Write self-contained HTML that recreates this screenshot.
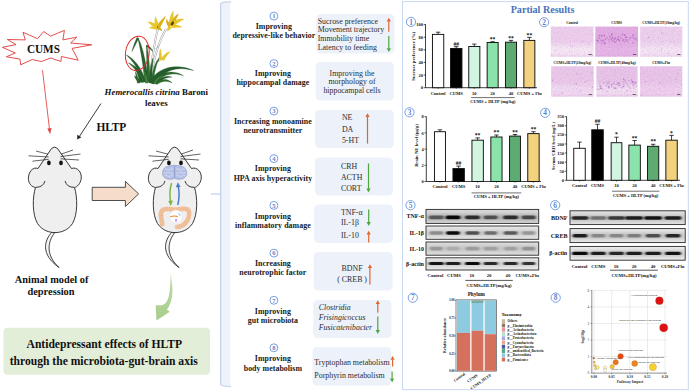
<!DOCTYPE html>
<html><head><meta charset="utf-8">
<style>
html,body{margin:0;padding:0;background:#fff;}
#c{position:relative;width:690px;height:391px;overflow:hidden;background:#fff;}
svg{position:absolute;left:0;top:0;}
text{font-family:"Liberation Serif",serif;}
.b{font-weight:bold;}
</style></head>
<body><div id="c">
<svg width="690" height="391" viewBox="0 0 690 391">
<defs>
 <linearGradient id="gArr" x1="0" y1="0" x2="0" y2="1">
  <stop offset="0" stop-color="#b5d69a" stop-opacity="0.15"/>
  <stop offset="0.3" stop-color="#b0d294" stop-opacity="0.9"/>
  <stop offset="1" stop-color="#a8cd8a"/>
 </linearGradient>
 <g id="mouse">
  <path d="M52,232 C44.5,240 40,254 59,267.5 C45.5,255 47.5,242 54.8,232.5 Z" fill="#f4f4f4" stroke="#222" stroke-width="0.85"/>
  <path d="M51.5,148.5 Q54.5,145.5 57.5,148.5 L71.5,168.5 C77,166.5 82,172 81.2,178.5 C80.5,184 77,187 74.5,187.5 C77.5,197 78,214 72.5,223.5 C68,230.5 60.5,232.6 55,232.6 C49.5,232.6 42,230.5 37.5,223.5 C32,214 32.5,197 35.5,187.5 C32,187 28.5,184 28.4,178.5 C28.3,172 33,166.5 38,168.5 Z" fill="#efefef" stroke="#222" stroke-width="0.9"/>
  <path d="M35.8,187.3 Q43,187.5 45,181" fill="none" stroke="#222" stroke-width="0.9"/>
  <path d="M74.2,187.3 Q67,187.5 65,181" fill="none" stroke="#222" stroke-width="0.9"/>
  <ellipse cx="48.9" cy="162.9" rx="1.85" ry="2.3" fill="#111"/>
  <ellipse cx="61.0" cy="162.9" rx="1.85" ry="2.3" fill="#111"/>
  <g stroke="#222" stroke-width="0.7" fill="none">
   <path d="M36,151 L48,154.2"/><path d="M28.5,155.8 L48.6,157"/><path d="M32.5,161.2 L48.6,159.3"/>
   <path d="M61,154.2 L73,150"/><path d="M60.5,156.6 L80.5,154"/><path d="M60.5,158.8 L79,160"/>
  </g>
 </g>
</defs>

<!-- ============ LEFT PANEL ============ -->
<!-- CUMS starburst -->
<polygon points="2.3,47.3 16,44.6 7.4,39.5 25.3,39.9 23,32.3 37.6,38.7 43.7,31.5 50.6,36.1 64.4,30.4 62.9,39.9 76.7,37.2 70.6,43 91.7,44.8 72.1,48.4 78.2,60.2 61.3,56.5 61,61.5 50.6,58 41.5,61.5 32.2,59.5 20.7,64.8 20,59.1 6.3,56.8 15.3,53" fill="#fff" stroke="#e03a3a" stroke-width="0.9" stroke-linejoin="miter"/>
<text x="26.9" y="52.6" font-size="12" class="b" fill="#111" textLength="33" lengthAdjust="spacingAndGlyphs">CUMS</text>
<!-- red arrow -->
<line x1="42.5" y1="70.2" x2="49.6" y2="130" stroke="#e24a4a" stroke-width="0.9"/>
<path d="M47.3,128.5 L50.1,134.2 L51.6,128 Z" fill="#e24a4a"/>
<!-- black arrow -->
<line x1="101" y1="103.5" x2="79.5" y2="136.3" stroke="#222" stroke-width="0.9"/>
<path d="M77.3,134.8 L77.2,139.6 L81.4,137.3 Z" fill="#222"/>

<!-- plant -->
<!--PLANT--><g id="plant">
<path d="M150.8,70 C152.5,56 154.5,42 157.8,29" fill="none" stroke="#9a9a9a" stroke-width="1.9"/>
<path d="M150.8,70 C152.5,56 154.5,42 157.8,29" fill="none" stroke="#f4f4f4" stroke-width="1.1"/>
<path d="M152.5,68 C155,55 159,41 166,29" fill="none" stroke="#9a9a9a" stroke-width="1.9"/>
<path d="M152.5,68 C155,55 159,41 166,29" fill="none" stroke="#f4f4f4" stroke-width="1.1"/>
<path d="M158.5,62 C159.5,57 160,54 160.3,50" fill="none" stroke="#9a9a9a" stroke-width="1.0"/>
<path d="M155.5,49 L159,45.5" fill="none" stroke="#9a9a9a" stroke-width="0.8"/>
<path d="M148.25,81.84 L148.04,79.68 L147.80,77.50 L147.54,75.30 L147.24,73.10 L146.93,70.89 L146.59,68.69 L146.22,66.50 L145.84,64.33 L145.43,62.18 L145.01,60.06 L144.57,57.99 L144.12,55.95 L143.66,53.98 L143.18,52.06 L142.69,50.20 L142.18,48.42 L141.67,46.73 L141.16,45.12 L140.63,43.60 L140.09,42.19 L139.55,40.89 L139.00,39.71 L138.43,38.67 L137.80,37.80 L137.80,37.80 L137.97,38.86 L138.23,40.00 L138.51,41.25 L138.81,42.60 L139.12,44.05 L139.44,45.59 L139.77,47.22 L140.10,48.94 L140.44,50.73 L140.78,52.59 L141.12,54.52 L141.45,56.50 L141.78,58.53 L142.11,60.60 L142.43,62.71 L142.74,64.84 L143.04,67.00 L143.33,69.18 L143.61,71.36 L143.87,73.55 L144.12,75.73 L144.35,77.89 L144.56,80.04 L144.75,82.16 Z" fill="#276030" stroke="#1e4d22" stroke-width="0.3"/>
<path d="M136.93,37.43 L136.71,37.95 L136.49,38.47 L136.27,38.99 L136.05,39.52 L135.83,40.05 L135.61,40.58 L135.39,41.11 L135.17,41.65 L134.95,42.20 L134.73,42.75 L134.52,43.30 L134.30,43.87 L134.09,44.44 L133.88,45.02 L133.67,45.61 L133.46,46.21 L133.26,46.83 L133.05,47.45 L132.85,48.09 L132.66,48.73 L132.47,49.40 L132.29,50.08 L132.12,50.77 L132.00,51.50 L132.00,51.50 L132.38,50.87 L132.71,50.23 L133.03,49.61 L133.34,49.00 L133.64,48.40 L133.94,47.81 L134.23,47.23 L134.52,46.66 L134.81,46.10 L135.09,45.54 L135.37,45.00 L135.65,44.46 L135.92,43.92 L136.19,43.39 L136.45,42.87 L136.71,42.34 L136.97,41.82 L137.22,41.30 L137.47,40.78 L137.72,40.26 L137.96,39.75 L138.20,39.22 L138.44,38.70 L138.67,38.17 Z" fill="#276030" stroke="#1e4d22" stroke-width="0.3"/>
<path d="M149.98,82.00 L149.98,80.23 L149.95,78.44 L149.91,76.65 L149.86,74.85 L149.80,73.05 L149.72,71.26 L149.63,69.47 L149.53,67.70 L149.42,65.95 L149.30,64.23 L149.17,62.53 L149.03,60.87 L148.87,59.25 L148.71,57.67 L148.54,56.14 L148.37,54.67 L148.18,53.26 L147.98,51.91 L147.78,50.63 L147.56,49.43 L147.34,48.31 L147.10,47.27 L146.83,46.33 L146.50,45.50 L146.50,45.50 L146.42,46.39 L146.40,47.36 L146.41,48.42 L146.43,49.55 L146.45,50.76 L146.48,52.05 L146.52,53.40 L146.56,54.81 L146.60,56.29 L146.64,57.81 L146.68,59.39 L146.72,61.01 L146.77,62.66 L146.80,64.35 L146.84,66.07 L146.88,67.81 L146.91,69.58 L146.94,71.35 L146.96,73.13 L146.98,74.92 L147.00,76.71 L147.01,78.49 L147.01,80.25 L147.02,82.00 Z" fill="#2f6c2e" stroke="#1e4d22" stroke-width="0.3"/>
<path d="M146.04,46.25 L146.34,46.43 L146.63,46.61 L146.92,46.79 L147.21,46.98 L147.50,47.17 L147.78,47.37 L148.07,47.57 L148.35,47.77 L148.63,47.97 L148.91,48.18 L149.19,48.40 L149.47,48.62 L149.75,48.84 L150.03,49.07 L150.31,49.30 L150.59,49.53 L150.87,49.77 L151.16,50.01 L151.45,50.26 L151.74,50.51 L152.04,50.76 L152.34,51.02 L152.65,51.27 L153.00,51.50 L153.00,51.50 L152.85,51.11 L152.66,50.75 L152.46,50.41 L152.25,50.07 L152.04,49.74 L151.82,49.42 L151.60,49.11 L151.37,48.80 L151.14,48.50 L150.90,48.20 L150.66,47.92 L150.41,47.63 L150.15,47.36 L149.89,47.09 L149.63,46.82 L149.36,46.57 L149.08,46.31 L148.80,46.07 L148.51,45.83 L148.21,45.60 L147.91,45.38 L147.60,45.16 L147.28,44.95 L146.96,44.75 Z" fill="#276030" stroke="#1e4d22" stroke-width="0.3"/>
<path d="M145.57,81.58 L145.15,80.05 L144.69,78.54 L144.19,77.06 L143.64,75.61 L143.06,74.18 L142.43,72.79 L141.77,71.43 L141.07,70.10 L140.34,68.81 L139.57,67.55 L138.77,66.34 L137.95,65.16 L137.09,64.03 L136.21,62.94 L135.31,61.90 L134.38,60.90 L133.44,59.95 L132.47,59.06 L131.48,58.22 L130.48,57.43 L129.47,56.71 L128.43,56.05 L127.39,55.46 L126.30,55.00 L126.30,55.00 L127.13,55.84 L127.98,56.66 L128.83,57.50 L129.67,58.37 L130.50,59.28 L131.31,60.22 L132.12,61.20 L132.90,62.21 L133.68,63.26 L134.43,64.33 L135.16,65.45 L135.88,66.59 L136.57,67.76 L137.24,68.96 L137.89,70.20 L138.51,71.46 L139.10,72.74 L139.67,74.06 L140.21,75.39 L140.72,76.76 L141.20,78.14 L141.64,79.54 L142.06,80.97 L142.43,82.42 Z" fill="#276030" stroke="#1e4d22" stroke-width="0.3"/>
<path d="M144.42,81.55 L144.01,80.28 L143.56,79.05 L143.08,77.86 L142.57,76.72 L142.03,75.62 L141.46,74.56 L140.86,73.55 L140.24,72.57 L139.60,71.65 L138.94,70.76 L138.25,69.92 L137.55,69.12 L136.84,68.36 L136.11,67.64 L135.37,66.97 L134.62,66.34 L133.86,65.75 L133.09,65.20 L132.32,64.69 L131.55,64.23 L130.77,63.81 L129.99,63.44 L129.21,63.12 L128.40,62.90 L128.40,62.90 L129.00,63.48 L129.62,64.03 L130.26,64.59 L130.89,65.16 L131.52,65.76 L132.15,66.37 L132.78,67.01 L133.40,67.68 L134.01,68.37 L134.62,69.09 L135.21,69.83 L135.80,70.61 L136.37,71.41 L136.93,72.25 L137.48,73.11 L138.01,74.01 L138.52,74.94 L139.02,75.91 L139.50,76.91 L139.96,77.94 L140.40,79.01 L140.82,80.12 L141.21,81.26 L141.58,82.45 Z" fill="#2f6c2e" stroke="#1e4d22" stroke-width="0.3"/>
<path d="M142.17,81.67 L141.92,80.80 L141.67,79.96 L141.41,79.13 L141.16,78.33 L140.91,77.54 L140.65,76.78 L140.40,76.03 L140.14,75.31 L139.87,74.60 L139.60,73.92 L139.32,73.25 L139.04,72.60 L138.75,71.97 L138.46,71.36 L138.15,70.77 L137.83,70.20 L137.51,69.65 L137.17,69.13 L136.82,68.62 L136.46,68.14 L136.08,67.68 L135.69,67.24 L135.27,66.84 L134.80,66.50 L134.80,66.50 L134.99,67.05 L135.22,67.57 L135.44,68.09 L135.66,68.62 L135.87,69.16 L136.08,69.70 L136.29,70.26 L136.49,70.84 L136.69,71.42 L136.89,72.02 L137.09,72.64 L137.28,73.28 L137.48,73.93 L137.67,74.60 L137.87,75.28 L138.07,75.99 L138.27,76.71 L138.48,77.46 L138.69,78.22 L138.90,79.00 L139.13,79.80 L139.35,80.63 L139.59,81.47 L139.83,82.33 Z" fill="#276030" stroke="#1e4d22" stroke-width="0.3"/>
<path d="M141.35,80.95 L141.04,80.71 L140.74,80.47 L140.44,80.24 L140.15,80.01 L139.85,79.78 L139.56,79.56 L139.28,79.34 L138.99,79.12 L138.71,78.90 L138.43,78.69 L138.15,78.47 L137.87,78.26 L137.59,78.06 L137.32,77.85 L137.05,77.65 L136.78,77.45 L136.51,77.25 L136.24,77.05 L135.97,76.86 L135.69,76.67 L135.42,76.48 L135.14,76.30 L134.84,76.13 L134.50,76.00 L134.50,76.00 L134.54,76.37 L134.64,76.70 L134.75,77.02 L134.89,77.33 L135.04,77.64 L135.20,77.95 L135.37,78.25 L135.56,78.55 L135.75,78.85 L135.95,79.15 L136.16,79.44 L136.38,79.74 L136.61,80.03 L136.85,80.31 L137.09,80.60 L137.34,80.88 L137.60,81.16 L137.87,81.44 L138.15,81.72 L138.44,81.99 L138.73,82.26 L139.03,82.53 L139.34,82.79 L139.65,83.05 Z" fill="#276030" stroke="#1e4d22" stroke-width="0.3"/>
<path d="M139.55,82.74 L139.42,82.24 L139.29,81.75 L139.15,81.27 L139.01,80.80 L138.87,80.34 L138.73,79.88 L138.58,79.43 L138.43,78.98 L138.28,78.54 L138.12,78.10 L137.97,77.66 L137.81,77.22 L137.65,76.77 L137.48,76.33 L137.31,75.88 L137.14,75.43 L136.96,74.97 L136.78,74.50 L136.60,74.02 L136.40,73.54 L136.21,73.04 L136.00,72.54 L135.77,72.02 L135.50,71.50 L135.50,71.50 L135.48,72.09 L135.50,72.65 L135.54,73.20 L135.60,73.73 L135.65,74.26 L135.72,74.77 L135.79,75.27 L135.86,75.76 L135.94,76.24 L136.02,76.72 L136.10,77.19 L136.19,77.66 L136.28,78.12 L136.38,78.58 L136.47,79.04 L136.57,79.50 L136.67,79.96 L136.77,80.42 L136.88,80.88 L136.99,81.34 L137.10,81.81 L137.21,82.29 L137.33,82.77 L137.45,83.26 Z" fill="#2f6c2e" stroke="#1e4d22" stroke-width="0.3"/>
<path d="M151.85,83.01 L151.85,82.01 L151.86,80.99 L151.87,79.96 L151.89,78.91 L151.91,77.85 L151.94,76.78 L151.98,75.69 L152.02,74.61 L152.06,73.51 L152.11,72.42 L152.17,71.33 L152.23,70.23 L152.29,69.14 L152.36,68.06 L152.43,66.99 L152.50,65.93 L152.58,64.87 L152.65,63.84 L152.73,62.82 L152.81,61.82 L152.88,60.83 L152.95,59.87 L153.00,58.93 L153.00,58.00 L153.00,58.00 L152.63,58.85 L152.32,59.75 L152.04,60.68 L151.78,61.64 L151.53,62.62 L151.30,63.63 L151.08,64.66 L150.87,65.70 L150.67,66.76 L150.48,67.84 L150.31,68.92 L150.15,70.02 L149.99,71.12 L149.85,72.22 L149.73,73.33 L149.61,74.43 L149.51,75.53 L149.42,76.63 L149.34,77.72 L149.27,78.80 L149.22,79.87 L149.18,80.93 L149.16,81.97 L149.15,82.99 Z" fill="#276030" stroke="#1e4d22" stroke-width="0.3"/>
<path d="M153.21,83.12 L153.34,81.77 L153.49,80.43 L153.65,79.10 L153.83,77.79 L154.02,76.50 L154.23,75.22 L154.45,73.96 L154.69,72.73 L154.94,71.52 L155.20,70.33 L155.48,69.17 L155.77,68.03 L156.08,66.93 L156.39,65.86 L156.72,64.82 L157.05,63.81 L157.40,62.83 L157.76,61.90 L158.12,61.00 L158.49,60.13 L158.87,59.31 L159.26,58.51 L159.64,57.75 L160.00,57.00 L160.00,57.00 L159.37,57.55 L158.79,58.19 L158.23,58.90 L157.68,59.66 L157.16,60.48 L156.65,61.35 L156.16,62.27 L155.69,63.23 L155.23,64.23 L154.80,65.27 L154.38,66.35 L153.98,67.47 L153.60,68.61 L153.23,69.79 L152.89,71.00 L152.57,72.23 L152.27,73.49 L151.99,74.78 L151.73,76.09 L151.50,77.41 L151.29,78.76 L151.10,80.12 L150.93,81.49 L150.79,82.88 Z" fill="#2f6c2e" stroke="#1e4d22" stroke-width="0.3"/>
<path d="M152.63,83.95 L153.37,82.68 L154.18,81.43 L155.08,80.20 L156.07,79.00 L157.13,77.84 L158.28,76.72 L159.51,75.64 L160.83,74.63 L162.22,73.67 L163.70,72.77 L165.27,71.95 L166.92,71.20 L168.66,70.54 L170.48,69.96 L172.39,69.49 L174.38,69.11 L176.47,68.85 L178.64,68.70 L180.90,68.67 L183.25,68.78 L185.69,69.01 L188.23,69.39 L190.85,69.90 L193.60,70.50 L193.60,70.50 L191.02,69.39 L188.45,68.53 L185.94,67.85 L183.47,67.34 L181.06,66.99 L178.71,66.78 L176.42,66.73 L174.20,66.81 L172.04,67.03 L169.94,67.37 L167.93,67.84 L165.98,68.42 L164.11,69.12 L162.32,69.91 L160.62,70.80 L159.00,71.78 L157.46,72.85 L156.02,73.99 L154.67,75.20 L153.41,76.47 L152.25,77.80 L151.19,79.17 L150.23,80.59 L149.37,82.05 Z" fill="#276030" stroke="#1e4d22" stroke-width="0.3"/>
<path d="M153.72,84.07 L154.62,83.02 L155.57,82.03 L156.55,81.08 L157.56,80.18 L158.61,79.34 L159.69,78.55 L160.80,77.82 L161.94,77.15 L163.11,76.54 L164.31,75.99 L165.53,75.50 L166.78,75.07 L168.05,74.72 L169.35,74.43 L170.67,74.22 L172.01,74.08 L173.37,74.01 L174.75,74.03 L176.15,74.12 L177.57,74.30 L179.01,74.56 L180.48,74.91 L181.96,75.33 L183.50,75.80 L183.50,75.80 L182.16,74.92 L180.76,74.20 L179.33,73.59 L177.89,73.09 L176.43,72.70 L174.97,72.40 L173.50,72.20 L172.03,72.10 L170.56,72.09 L169.10,72.18 L167.65,72.36 L166.22,72.63 L164.80,72.98 L163.40,73.42 L162.03,73.94 L160.69,74.54 L159.37,75.22 L158.09,75.97 L156.85,76.80 L155.64,77.69 L154.48,78.66 L153.36,79.69 L152.30,80.78 L151.28,81.93 Z" fill="#2f6c2e" stroke="#1e4d22" stroke-width="0.3"/>
<path d="M154.09,83.80 L154.71,82.96 L155.37,82.10 L156.09,81.23 L156.84,80.37 L157.64,79.50 L158.48,78.64 L159.36,77.79 L160.28,76.96 L161.23,76.15 L162.22,75.35 L163.24,74.59 L164.29,73.85 L165.37,73.15 L166.48,72.48 L167.61,71.86 L168.78,71.28 L169.97,70.75 L171.18,70.27 L172.42,69.85 L173.68,69.48 L174.97,69.18 L176.29,68.94 L177.63,68.76 L179.00,68.60 L179.00,68.60 L177.63,68.38 L176.26,68.31 L174.89,68.34 L173.52,68.46 L172.16,68.67 L170.82,68.95 L169.49,69.31 L168.19,69.74 L166.90,70.23 L165.64,70.79 L164.41,71.39 L163.21,72.05 L162.05,72.75 L160.91,73.49 L159.82,74.27 L158.76,75.08 L157.74,75.92 L156.77,76.78 L155.84,77.66 L154.95,78.56 L154.12,79.46 L153.33,80.37 L152.59,81.28 L151.91,82.20 Z" fill="#276030" stroke="#1e4d22" stroke-width="0.3"/>
<path d="M155.83,84.06 L156.44,83.58 L157.05,83.11 L157.67,82.64 L158.30,82.19 L158.93,81.75 L159.56,81.33 L160.21,80.92 L160.85,80.52 L161.50,80.15 L162.16,79.79 L162.82,79.45 L163.48,79.13 L164.15,78.84 L164.83,78.57 L165.50,78.32 L166.19,78.09 L166.88,77.89 L167.58,77.72 L168.29,77.57 L169.00,77.45 L169.73,77.36 L170.46,77.30 L171.22,77.26 L172.00,77.20 L172.00,77.20 L171.28,76.88 L170.54,76.67 L169.78,76.52 L169.01,76.42 L168.23,76.36 L167.45,76.36 L166.67,76.39 L165.88,76.47 L165.10,76.59 L164.32,76.75 L163.54,76.94 L162.77,77.17 L162.00,77.42 L161.24,77.71 L160.49,78.03 L159.74,78.38 L159.01,78.75 L158.28,79.15 L157.56,79.57 L156.86,80.00 L156.17,80.46 L155.49,80.94 L154.82,81.43 L154.17,81.94 Z" fill="#276030" stroke="#1e4d22" stroke-width="0.3"/>
<path d="M156.75,84.62 L157.34,84.22 L157.93,83.84 L158.53,83.49 L159.13,83.16 L159.73,82.85 L160.34,82.57 L160.95,82.32 L161.56,82.09 L162.18,81.90 L162.80,81.73 L163.42,81.59 L164.04,81.48 L164.67,81.41 L165.30,81.36 L165.93,81.36 L166.57,81.38 L167.22,81.44 L167.87,81.55 L168.53,81.69 L169.20,81.87 L169.87,82.10 L170.56,82.37 L171.26,82.68 L172.00,83.00 L172.00,83.00 L171.48,82.37 L170.91,81.84 L170.29,81.36 L169.66,80.94 L169.00,80.57 L168.32,80.25 L167.62,79.98 L166.91,79.77 L166.18,79.60 L165.45,79.48 L164.71,79.41 L163.96,79.39 L163.21,79.42 L162.46,79.49 L161.70,79.60 L160.96,79.76 L160.21,79.96 L159.47,80.19 L158.74,80.47 L158.02,80.78 L157.31,81.13 L156.61,81.52 L155.92,81.93 L155.25,82.38 Z" fill="#2f6c2e" stroke="#1e4d22" stroke-width="0.3"/>
<path d="M154.89,84.11 L155.25,83.58 L155.62,83.06 L156.00,82.55 L156.38,82.06 L156.76,81.58 L157.16,81.11 L157.55,80.66 L157.96,80.22 L158.37,79.80 L158.78,79.39 L159.20,78.99 L159.62,78.61 L160.05,78.24 L160.48,77.89 L160.92,77.55 L161.36,77.22 L161.80,76.91 L162.25,76.61 L162.70,76.32 L163.16,76.05 L163.62,75.79 L164.08,75.53 L164.54,75.28 L165.00,75.00 L165.00,75.00 L164.46,74.99 L163.92,75.05 L163.39,75.15 L162.85,75.28 L162.32,75.44 L161.78,75.62 L161.24,75.84 L160.71,76.07 L160.18,76.34 L159.66,76.62 L159.14,76.93 L158.63,77.27 L158.12,77.62 L157.61,78.00 L157.12,78.40 L156.63,78.82 L156.16,79.26 L155.69,79.72 L155.23,80.20 L154.78,80.70 L154.34,81.22 L153.92,81.76 L153.51,82.31 L153.11,82.89 Z" fill="#46843b" stroke="#1e4d22" stroke-width="0.3"/>
<path d="M148.32,82.73 L148.19,82.11 L148.06,81.50 L147.92,80.90 L147.78,80.30 L147.63,79.72 L147.49,79.15 L147.33,78.59 L147.18,78.03 L147.02,77.48 L146.86,76.94 L146.69,76.41 L146.52,75.88 L146.35,75.36 L146.17,74.85 L145.99,74.34 L145.80,73.84 L145.61,73.34 L145.41,72.85 L145.21,72.36 L145.00,71.88 L144.79,71.40 L144.56,70.92 L144.31,70.45 L144.00,70.00 L144.00,70.00 L143.94,70.55 L143.94,71.08 L143.96,71.60 L144.00,72.13 L144.04,72.65 L144.09,73.18 L144.14,73.71 L144.20,74.23 L144.26,74.76 L144.33,75.29 L144.40,75.83 L144.48,76.37 L144.56,76.91 L144.64,77.45 L144.73,78.01 L144.82,78.56 L144.92,79.13 L145.01,79.69 L145.12,80.27 L145.22,80.85 L145.33,81.44 L145.44,82.04 L145.56,82.65 L145.68,83.27 Z" fill="#46843b" stroke="#1e4d22" stroke-width="0.3"/>
<path d="M162.03,60.44 L162.00,59.88 L161.97,59.34 L161.94,58.79 L161.90,58.25 L161.87,57.72 L161.83,57.19 L161.79,56.67 L161.75,56.16 L161.71,55.65 L161.67,55.14 L161.63,54.64 L161.58,54.14 L161.54,53.65 L161.49,53.16 L161.45,52.68 L161.40,52.21 L161.35,51.73 L161.30,51.26 L161.24,50.80 L161.18,50.33 L161.12,49.88 L161.04,49.42 L160.95,48.96 L160.80,48.50 L160.80,48.50 L160.55,48.92 L160.37,49.35 L160.22,49.80 L160.08,50.25 L159.96,50.71 L159.85,51.17 L159.75,51.65 L159.65,52.13 L159.57,52.61 L159.49,53.11 L159.43,53.60 L159.37,54.11 L159.31,54.62 L159.27,55.13 L159.23,55.65 L159.20,56.18 L159.17,56.71 L159.15,57.24 L159.14,57.78 L159.13,58.33 L159.13,58.88 L159.14,59.44 L159.15,60.00 L159.17,60.56 Z" fill="#e6c62c"/>
<path d="M164.00,60.77 L164.24,60.31 L164.47,59.86 L164.70,59.42 L164.93,59.00 L165.16,58.58 L165.40,58.17 L165.64,57.77 L165.88,57.38 L166.12,57.00 L166.37,56.62 L166.63,56.24 L166.89,55.87 L167.15,55.50 L167.43,55.13 L167.71,54.76 L167.99,54.39 L168.29,54.02 L168.59,53.65 L168.90,53.28 L169.22,52.89 L169.54,52.51 L169.87,52.11 L170.20,51.69 L170.50,51.20 L170.50,51.20 L169.93,51.29 L169.42,51.45 L168.92,51.64 L168.44,51.85 L167.98,52.07 L167.52,52.31 L167.07,52.57 L166.64,52.84 L166.21,53.12 L165.79,53.42 L165.39,53.73 L164.99,54.06 L164.60,54.40 L164.22,54.76 L163.85,55.13 L163.49,55.52 L163.14,55.93 L162.81,56.35 L162.48,56.79 L162.16,57.24 L161.85,57.71 L161.55,58.20 L161.27,58.71 L161.00,59.23 Z" fill="#e6c62c"/>
<path d="M158.63,25.91 L158.19,25.60 L157.75,25.30 L157.30,25.01 L156.86,24.73 L156.42,24.46 L155.97,24.20 L155.53,23.95 L155.08,23.71 L154.63,23.48 L154.18,23.26 L153.73,23.06 L153.28,22.86 L152.83,22.67 L152.37,22.50 L151.91,22.34 L151.45,22.20 L150.98,22.07 L150.51,21.95 L150.04,21.86 L149.57,21.78 L149.09,21.72 L148.61,21.69 L148.12,21.69 L147.60,21.80 L147.60,21.80 L147.93,22.21 L148.28,22.54 L148.63,22.85 L148.97,23.15 L149.32,23.45 L149.66,23.74 L150.01,24.03 L150.35,24.31 L150.70,24.60 L151.05,24.89 L151.39,25.18 L151.75,25.47 L152.10,25.76 L152.46,26.05 L152.82,26.35 L153.19,26.64 L153.56,26.94 L153.94,27.24 L154.32,27.55 L154.72,27.85 L155.12,28.16 L155.52,28.47 L155.94,28.78 L156.37,29.09 Z" fill="#e8c828"/>
<path d="M159.38,26.97 L159.25,26.54 L159.11,26.10 L158.98,25.67 L158.83,25.23 L158.69,24.79 L158.54,24.36 L158.39,23.92 L158.24,23.48 L158.09,23.04 L157.93,22.60 L157.78,22.16 L157.62,21.72 L157.47,21.28 L157.32,20.85 L157.16,20.41 L157.01,19.98 L156.85,19.54 L156.70,19.11 L156.54,18.68 L156.39,18.25 L156.22,17.81 L156.06,17.38 L155.87,16.94 L155.60,16.50 L155.60,16.50 L155.32,16.94 L155.14,17.39 L155.00,17.85 L154.89,18.33 L154.80,18.81 L154.73,19.30 L154.68,19.79 L154.65,20.28 L154.63,20.78 L154.62,21.28 L154.63,21.78 L154.65,22.28 L154.68,22.78 L154.73,23.27 L154.78,23.77 L154.84,24.26 L154.91,24.75 L154.99,25.24 L155.08,25.72 L155.18,26.19 L155.28,26.66 L155.39,27.13 L155.50,27.58 L155.62,28.03 Z" fill="#e8c828"/>
<path d="M159.69,28.47 L159.94,28.04 L160.18,27.59 L160.42,27.15 L160.66,26.69 L160.90,26.24 L161.14,25.78 L161.38,25.31 L161.62,24.85 L161.86,24.39 L162.10,23.92 L162.34,23.46 L162.58,22.99 L162.81,22.53 L163.05,22.07 L163.28,21.62 L163.51,21.16 L163.74,20.71 L163.97,20.26 L164.20,19.82 L164.42,19.37 L164.64,18.93 L164.85,18.48 L165.05,18.02 L165.20,17.50 L165.20,17.50 L164.67,17.62 L164.21,17.83 L163.75,18.08 L163.31,18.36 L162.88,18.66 L162.46,18.99 L162.05,19.33 L161.64,19.69 L161.24,20.06 L160.85,20.45 L160.47,20.85 L160.10,21.26 L159.73,21.67 L159.38,22.10 L159.03,22.53 L158.69,22.96 L158.36,23.40 L158.04,23.85 L157.72,24.29 L157.42,24.74 L157.13,25.19 L156.84,25.64 L156.57,26.08 L156.31,26.53 Z" fill="#e8c828"/>
<path d="M159.14,28.22 L159.45,27.71 L159.76,27.21 L160.06,26.70 L160.36,26.20 L160.66,25.69 L160.95,25.18 L161.24,24.67 L161.54,24.15 L161.82,23.64 L162.11,23.12 L162.40,22.60 L162.69,22.08 L162.97,21.55 L163.26,21.03 L163.54,20.50 L163.83,19.97 L164.11,19.43 L164.40,18.89 L164.68,18.35 L164.96,17.80 L165.24,17.25 L165.52,16.69 L165.78,16.11 L166.00,15.50 L166.00,15.50 L165.47,15.89 L165.00,16.31 L164.55,16.75 L164.12,17.20 L163.69,17.65 L163.28,18.11 L162.87,18.57 L162.47,19.03 L162.08,19.50 L161.69,19.97 L161.31,20.45 L160.94,20.92 L160.57,21.40 L160.21,21.88 L159.85,22.36 L159.50,22.85 L159.16,23.33 L158.81,23.82 L158.48,24.31 L158.14,24.80 L157.82,25.30 L157.49,25.79 L157.17,26.29 L156.86,26.78 Z" fill="#d8b020"/>
<path d="M157.61,26.35 L157.24,26.33 L156.87,26.32 L156.49,26.31 L156.12,26.30 L155.74,26.30 L155.36,26.30 L154.99,26.31 L154.61,26.32 L154.23,26.34 L153.86,26.36 L153.49,26.40 L153.11,26.43 L152.74,26.48 L152.38,26.53 L152.01,26.60 L151.65,26.67 L151.29,26.75 L150.94,26.84 L150.60,26.94 L150.26,27.06 L149.92,27.20 L149.60,27.35 L149.29,27.53 L149.00,27.80 L149.00,27.80 L149.34,28.00 L149.67,28.12 L150.00,28.23 L150.32,28.33 L150.65,28.42 L150.98,28.51 L151.31,28.60 L151.65,28.68 L151.98,28.76 L152.32,28.84 L152.67,28.92 L153.01,28.99 L153.36,29.06 L153.71,29.13 L154.07,29.20 L154.43,29.27 L154.79,29.33 L155.15,29.39 L155.52,29.44 L155.89,29.49 L156.26,29.54 L156.63,29.58 L157.01,29.62 L157.39,29.65 Z" fill="#e8c828"/>
<path d="M157.51,29.42 L157.66,29.47 L157.82,29.51 L157.98,29.56 L158.14,29.61 L158.30,29.66 L158.46,29.71 L158.63,29.77 L158.80,29.82 L158.97,29.88 L159.14,29.93 L159.31,29.99 L159.49,30.06 L159.67,30.12 L159.85,30.19 L160.04,30.26 L160.22,30.33 L160.42,30.41 L160.61,30.49 L160.81,30.58 L161.02,30.66 L161.23,30.75 L161.46,30.84 L161.70,30.94 L162.00,31.00 L162.00,31.00 L162.05,30.69 L162.02,30.43 L161.97,30.17 L161.90,29.92 L161.82,29.68 L161.72,29.45 L161.60,29.22 L161.48,29.00 L161.34,28.79 L161.20,28.58 L161.05,28.38 L160.88,28.19 L160.72,28.01 L160.54,27.84 L160.36,27.67 L160.17,27.51 L159.97,27.36 L159.77,27.22 L159.57,27.09 L159.36,26.97 L159.15,26.86 L158.93,26.76 L158.71,26.66 L158.49,26.58 Z" fill="#d8b020"/>
<path d="M172.74,26.23 L172.80,25.62 L172.85,24.99 L172.90,24.35 L172.96,23.71 L173.01,23.06 L173.06,22.41 L173.10,21.75 L173.15,21.08 L173.20,20.42 L173.24,19.75 L173.29,19.09 L173.33,18.42 L173.37,17.76 L173.41,17.10 L173.44,16.45 L173.48,15.80 L173.51,15.16 L173.53,14.52 L173.55,13.89 L173.57,13.27 L173.57,12.65 L173.56,12.04 L173.53,11.43 L173.40,10.80 L173.40,10.80 L172.92,11.24 L172.55,11.73 L172.21,12.26 L171.90,12.81 L171.60,13.38 L171.32,13.97 L171.05,14.57 L170.80,15.19 L170.55,15.83 L170.32,16.47 L170.10,17.12 L169.90,17.78 L169.70,18.44 L169.51,19.11 L169.34,19.78 L169.18,20.46 L169.02,21.13 L168.88,21.81 L168.75,22.48 L168.63,23.15 L168.52,23.81 L168.42,24.47 L168.33,25.12 L168.26,25.77 Z" fill="#e8c828"/>
<path d="M172.74,26.38 L173.04,25.77 L173.34,25.17 L173.63,24.57 L173.91,23.99 L174.19,23.41 L174.47,22.84 L174.74,22.28 L175.01,21.73 L175.27,21.19 L175.53,20.66 L175.78,20.13 L176.03,19.61 L176.28,19.10 L176.52,18.60 L176.76,18.11 L176.99,17.63 L177.22,17.15 L177.45,16.67 L177.67,16.20 L177.88,15.74 L178.09,15.27 L178.29,14.81 L178.48,14.33 L178.60,13.80 L178.60,13.80 L178.07,13.95 L177.61,14.19 L177.17,14.47 L176.73,14.78 L176.31,15.10 L175.89,15.46 L175.48,15.83 L175.07,16.22 L174.67,16.63 L174.27,17.06 L173.88,17.50 L173.50,17.96 L173.11,18.44 L172.74,18.93 L172.37,19.44 L172.00,19.96 L171.64,20.49 L171.29,21.04 L170.93,21.61 L170.59,22.18 L170.25,22.77 L169.91,23.38 L169.58,23.99 L169.26,24.62 Z" fill="#d8b020"/>
<path d="M172.75,26.69 L173.23,26.33 L173.71,25.97 L174.18,25.61 L174.66,25.25 L175.14,24.90 L175.62,24.55 L176.09,24.20 L176.57,23.86 L177.05,23.53 L177.52,23.20 L178.00,22.88 L178.48,22.56 L178.95,22.26 L179.43,21.96 L179.90,21.67 L180.38,21.38 L180.86,21.11 L181.34,20.84 L181.82,20.57 L182.30,20.32 L182.79,20.06 L183.29,19.81 L183.79,19.54 L184.30,19.20 L184.30,19.20 L183.73,18.95 L183.16,18.83 L182.57,18.76 L181.97,18.73 L181.37,18.74 L180.76,18.79 L180.15,18.86 L179.54,18.96 L178.93,19.09 L178.32,19.24 L177.71,19.41 L177.10,19.61 L176.50,19.83 L175.90,20.07 L175.30,20.32 L174.71,20.60 L174.13,20.89 L173.55,21.19 L172.98,21.52 L172.41,21.85 L171.86,22.20 L171.31,22.56 L170.78,22.93 L170.25,23.31 Z" fill="#e8c828"/>
<path d="M171.50,27.80 L171.92,27.80 L172.35,27.79 L172.78,27.78 L173.20,27.76 L173.63,27.75 L174.05,27.73 L174.48,27.71 L174.90,27.70 L175.33,27.68 L175.75,27.66 L176.18,27.63 L176.60,27.61 L177.03,27.59 L177.46,27.57 L177.89,27.55 L178.33,27.53 L178.76,27.51 L179.20,27.49 L179.65,27.46 L180.10,27.44 L180.56,27.41 L181.02,27.38 L181.49,27.32 L182.00,27.20 L182.00,27.20 L181.63,26.83 L181.23,26.56 L180.82,26.31 L180.40,26.09 L179.98,25.88 L179.55,25.69 L179.11,25.52 L178.67,25.36 L178.23,25.21 L177.79,25.07 L177.34,24.95 L176.90,24.84 L176.45,24.73 L176.00,24.64 L175.55,24.56 L175.10,24.48 L174.65,24.42 L174.20,24.36 L173.75,24.31 L173.30,24.27 L172.85,24.24 L172.40,24.22 L171.95,24.21 L171.50,24.20 Z" fill="#e8c828"/>
<path d="M169.22,25.24 L169.02,25.45 L168.83,25.66 L168.65,25.88 L168.47,26.10 L168.31,26.33 L168.16,26.56 L168.01,26.80 L167.88,27.04 L167.76,27.28 L167.64,27.53 L167.54,27.78 L167.44,28.03 L167.36,28.29 L167.29,28.54 L167.23,28.80 L167.19,29.06 L167.16,29.32 L167.14,29.58 L167.13,29.85 L167.15,30.11 L167.18,30.38 L167.23,30.64 L167.32,30.91 L167.50,31.20 L167.50,31.20 L167.81,31.06 L168.04,30.91 L168.24,30.76 L168.44,30.62 L168.62,30.48 L168.80,30.33 L168.98,30.20 L169.15,30.06 L169.31,29.92 L169.48,29.79 L169.64,29.65 L169.81,29.52 L169.97,29.38 L170.13,29.25 L170.29,29.11 L170.45,28.97 L170.62,28.83 L170.78,28.69 L170.94,28.55 L171.11,28.40 L171.27,28.25 L171.44,28.09 L171.61,27.93 L171.78,27.76 Z" fill="#e8c828"/>
<path d="M171.18,24.85 L170.96,24.63 L170.75,24.41 L170.54,24.20 L170.33,23.97 L170.12,23.75 L169.92,23.53 L169.72,23.30 L169.52,23.07 L169.33,22.84 L169.14,22.61 L168.95,22.37 L168.77,22.14 L168.58,21.89 L168.40,21.65 L168.23,21.40 L168.05,21.15 L167.87,20.90 L167.70,20.64 L167.52,20.37 L167.34,20.11 L167.16,19.84 L166.98,19.56 L166.77,19.28 L166.50,19.00 L166.50,19.00 L166.31,19.34 L166.21,19.69 L166.15,20.04 L166.11,20.39 L166.09,20.74 L166.09,21.10 L166.11,21.45 L166.14,21.81 L166.20,22.17 L166.27,22.53 L166.36,22.88 L166.46,23.24 L166.57,23.59 L166.71,23.94 L166.85,24.29 L167.02,24.63 L167.19,24.97 L167.38,25.30 L167.59,25.63 L167.81,25.95 L168.04,26.26 L168.28,26.57 L168.54,26.86 L168.82,27.15 Z" fill="#d8b020"/>
<ellipse cx="172.4" cy="23.5" rx="1.2" ry="2.2" fill="#5a3a0a" transform="rotate(35 172.4 23.5)"/>
<path d="M157.4,26 L157.6,28.6" stroke="#7a5a10" stroke-width="0.8"/>
<ellipse cx="137.3" cy="53.4" rx="11.8" ry="17.3" fill="none" stroke="#e02a2a" stroke-width="0.95" transform="rotate(8 137.3 53.4)"/>
</g><!--/PLANT-->
<text x="104.6" y="95.4" font-size="8.9" class="b" fill="#111"><tspan font-style="italic">Hemerocallis citrina</tspan> Baroni</text>
<text x="156.3" y="105.8" font-size="8.9" class="b" text-anchor="middle" fill="#111">leaves</text>
<text x="96.4" y="131.3" font-size="11.7" class="b" fill="#111" textLength="29.9" lengthAdjust="spacingAndGlyphs">HLTP</text>

<!-- mice -->
<use href="#mouse"/>
<use href="#mouse" transform="translate(120,0)"/>
<!-- brain -->
<g>
 <path d="M162.6,173.5 C162.4,168 166,165.4 174.6,165.4 C183.2,165.4 186.9,168 186.7,173.5 C186.5,177.5 183,179.3 179,179.3 C177,179.3 175.5,178.8 174.6,178.3 C173.7,178.8 172.2,179.3 170.2,179.3 C166.2,179.3 162.8,177.5 162.6,173.5 Z" fill="#b4c0e4" stroke="#8796c8" stroke-width="0.6"/>
 <path d="M174.6,165.6 L174.6,178.2" stroke="#7f8fc0" stroke-width="0.7"/>
 <g fill="none" stroke="#eef1fb" stroke-width="0.55" opacity="0.9">
  <path d="M164.5,169.5 q1.5,-1.5 3,0 t3,0 t3,-0.5"/><path d="M163.8,172.8 q1.5,1.2 3,0 t3,0 t3.5,0.3"/><path d="M164.5,176 q1.5,-1.2 3,0 t3,0 t3,0.2"/>
  <path d="M176,169.5 q1.5,-1.5 3,0 t3,0 t3,0.5"/><path d="M176,172.8 q1.5,1.2 3,0 t3,0 t3.5,-0.3"/><path d="M176,176 q1.5,-1.2 3,0 t3,0 t3,-0.2"/>
 </g>
</g>
<!-- gut-brain arrows -->
<path d="M171.6,183 C169.5,190 169.5,196 170.6,202" fill="none" stroke="#7ab648" stroke-width="1.5"/>
<path d="M168.2,201 L170.8,206 L173,200.6 Z" fill="#7ab648"/>
<path d="M177.8,205 C179.5,198 179.5,192 178.2,186" fill="none" stroke="#4a7cc8" stroke-width="1.5"/>
<path d="M175.8,187.2 L177.9,182.3 L180.6,187 Z" fill="#4a7cc8"/>
<!-- intestine -->
<g>
 <path d="M162.3,224.5 C161.2,218 159.5,212 163,209.8 C167.5,207.8 172,210 176.5,209.6 C181,209.2 186,207.6 188.4,210.2 C190.4,214 188.3,219.5 185.6,223 C182.5,226.2 179.5,227 177,227" fill="none" stroke="#f2c29c" stroke-width="4.6" stroke-linecap="round" stroke-linejoin="round"/>
 <path d="M162.3,224.5 C161.2,218 159.5,212 163,209.8 C167.5,207.8 172,210 176.5,209.6 C181,209.2 186,207.6 188.4,210.2 C190.4,214 188.3,219.5 185.6,223 C182.5,226.2 179.5,227 177,227" fill="none" stroke="#e8a878" stroke-width="4.6" stroke-dasharray="0.6 1.6" stroke-linecap="butt" opacity="0.55"/>
 <circle cx="176" cy="216.6" r="6.5" fill="#fdfdff" stroke="#e6e0ea" stroke-width="0.5"/>
 <path d="M170.3,216.8 q3.5,-1.6 7.6,-0.2" fill="none" stroke="#f08a20" stroke-width="1.1"/>
 <path d="M178.3,213.4 q1.6,0.6 1.8,2.4" fill="none" stroke="#6aa0e0" stroke-width="0.8"/>
 <path d="M176.2,218.8 l-0.3,2.8" fill="none" stroke="#c080e8" stroke-width="1.5"/>
</g>
<!-- peach arrow -->
<polygon points="92.2,187.3 125.4,187.3 125.4,181.3 138.6,193.9 125.4,206.5 125.4,200.5 92.2,200.5" fill="#f5dccb" stroke="#3a3a3a" stroke-width="0.9" stroke-linejoin="miter"/>
<text x="51.6" y="283.2" font-size="10.35" class="b" text-anchor="middle" fill="#111">Animal model of</text>
<text x="51" y="294.6" font-size="10.4" class="b" text-anchor="middle" fill="#111">depression</text>
<!-- green curved arrow -->
<path d="M170.0,273.4 C170.2,284 170.3,293 167.8,299.5 C166.5,302.5 164.5,304.3 162.3,305.2 L155.6,305.2 L156.5,320.6 L169.8,311.8 L166.8,309.8 C170.6,305 172.4,298 172.4,290 C172.4,284 171.9,278 171.0,273.4 Z" fill="url(#gArr)"/>
<!-- green box -->
<rect x="3.5" y="327.8" width="206.5" height="47" rx="4" fill="#e3eed8"/>
<text x="104.3" y="347.9" font-size="11.6" class="b" text-anchor="middle" fill="#111">Antidepressant effects of HLTP</text>
<text x="103.7" y="364.7" font-size="11.6" class="b" text-anchor="middle" fill="#111">through the microbiota-gut-brain axis</text>

<!-- ============ MIDDLE PANEL ============ -->
<g id="mid"><!--MID--><rect x="220.5" y="2.2" width="9.8" height="384" fill="#edf2fb"/>
<path d="M231,2 Q221,1.6 220.6,4.5 L220.6,384 Q221,386.6 231,386.6" fill="none" stroke="#c3d3ef" stroke-width="1.3"/>
<line x1="210.8" y1="194" x2="220.6" y2="194" stroke="#c3d3ef" stroke-width="1.3"/>
<rect x="316.3" y="14.1" width="78.1" height="39.4" rx="4.5" fill="#ecf1fa"/>
<circle cx="273.9" cy="16.1" r="3.95" fill="#fff" stroke="#6a94dc" stroke-width="0.9"/>
<text x="273.9" y="18.4" font-size="6.6" font-weight="bold" text-anchor="middle" fill="#5a85d2">1</text>
<text x="273.8" y="29.1" font-size="7.9" class="b" text-anchor="middle" fill="#1a1a1a" letter-spacing="0.05">Improving</text>
<text x="273.8" y="37.6" font-size="7.9" class="b" text-anchor="middle" fill="#1a1a1a" letter-spacing="0.05">depressive-like behavior</text>
<rect x="315.7" y="61.9" width="78.1" height="38.7" rx="4.5" fill="#ecf1fa"/>
<circle cx="273.9" cy="63.6" r="3.95" fill="#fff" stroke="#6a94dc" stroke-width="0.9"/>
<text x="273.9" y="65.9" font-size="6.6" font-weight="bold" text-anchor="middle" fill="#5a85d2">2</text>
<text x="272.9" y="76.0" font-size="7.9" class="b" text-anchor="middle" fill="#1a1a1a" letter-spacing="0.05">Improving</text>
<text x="272.9" y="84.6" font-size="7.9" class="b" text-anchor="middle" fill="#1a1a1a" letter-spacing="0.05">hippocampal damage</text>
<rect x="315.0" y="109.9" width="78.8" height="38.1" rx="4.5" fill="#ecf1fa"/>
<circle cx="273.9" cy="111.1" r="3.95" fill="#fff" stroke="#6a94dc" stroke-width="0.9"/>
<text x="273.9" y="113.4" font-size="6.6" font-weight="bold" text-anchor="middle" fill="#5a85d2">3</text>
<text x="272.9" y="123.9" font-size="7.9" class="b" text-anchor="middle" fill="#1a1a1a" letter-spacing="0.05">Increasing monoamine</text>
<text x="272.9" y="133.3" font-size="7.9" class="b" text-anchor="middle" fill="#1a1a1a" letter-spacing="0.05">neurotransmitter</text>
<rect x="315.0" y="157.4" width="78.0" height="38.2" rx="4.5" fill="#ecf1fa"/>
<circle cx="273.9" cy="158.6" r="3.95" fill="#fff" stroke="#6a94dc" stroke-width="0.9"/>
<text x="273.9" y="160.9" font-size="6.6" font-weight="bold" text-anchor="middle" fill="#5a85d2">4</text>
<text x="272.9" y="170.9" font-size="7.9" class="b" text-anchor="middle" fill="#1a1a1a" letter-spacing="0.05">Improving</text>
<text x="272.9" y="180.8" font-size="7.9" class="b" text-anchor="middle" fill="#1a1a1a" letter-spacing="0.05">HPA axis hyperactivity</text>
<rect x="314.3" y="204.4" width="78.7" height="38.7" rx="4.5" fill="#ecf1fa"/>
<circle cx="273.9" cy="205.4" r="3.95" fill="#fff" stroke="#6a94dc" stroke-width="0.9"/>
<text x="273.9" y="207.7" font-size="6.6" font-weight="bold" text-anchor="middle" fill="#5a85d2">5</text>
<text x="272.9" y="219.2" font-size="7.9" class="b" text-anchor="middle" fill="#1a1a1a" letter-spacing="0.05">Improving</text>
<text x="272.9" y="227.8" font-size="7.9" class="b" text-anchor="middle" fill="#1a1a1a" letter-spacing="0.05">inflammatory damage</text>
<rect x="313.8" y="251.9" width="78.8" height="38.7" rx="4.5" fill="#ecf1fa"/>
<circle cx="273.9" cy="253.1" r="3.95" fill="#fff" stroke="#6a94dc" stroke-width="0.9"/>
<text x="273.9" y="255.4" font-size="6.6" font-weight="bold" text-anchor="middle" fill="#5a85d2">6</text>
<text x="272.9" y="265.9" font-size="7.9" class="b" text-anchor="middle" fill="#1a1a1a" letter-spacing="0.05">Increasing</text>
<text x="272.9" y="275.0" font-size="7.9" class="b" text-anchor="middle" fill="#1a1a1a" letter-spacing="0.05">neurotrophic factor</text>
<rect x="313.3" y="299.9" width="78.1" height="38.1" rx="4.5" fill="#ecf1fa"/>
<circle cx="273.9" cy="300.3" r="3.95" fill="#fff" stroke="#6a94dc" stroke-width="0.9"/>
<text x="273.9" y="302.6" font-size="6.6" font-weight="bold" text-anchor="middle" fill="#5a85d2">7</text>
<text x="272.9" y="313.9" font-size="7.9" class="b" text-anchor="middle" fill="#1a1a1a" letter-spacing="0.05">Improving</text>
<text x="272.9" y="323.3" font-size="7.9" class="b" text-anchor="middle" fill="#1a1a1a" letter-spacing="0.05">gut microbiota</text>
<rect x="312.5" y="347.3" width="78.9" height="38.2" rx="4.5" fill="#ecf1fa"/>
<circle cx="273.9" cy="347.8" r="3.95" fill="#fff" stroke="#6a94dc" stroke-width="0.9"/>
<text x="273.9" y="350.1" font-size="6.6" font-weight="bold" text-anchor="middle" fill="#5a85d2">8</text>
<text x="272.9" y="361.4" font-size="7.9" class="b" text-anchor="middle" fill="#1a1a1a" letter-spacing="0.05">Improving</text>
<text x="272.9" y="370.7" font-size="7.9" class="b" text-anchor="middle" fill="#1a1a1a" letter-spacing="0.05">body metabolism</text>
<text x="317.7" y="24.0" font-size="7.9" fill="#2e2e2e">Sucrose preference</text>
<text x="317.7" y="32.4" font-size="7.9" fill="#2e2e2e">Movement trajectory</text>
<text x="317.7" y="40.9" font-size="7.9" fill="#2e2e2e">Immobility time</text>
<text x="317.7" y="49.7" font-size="7.9" fill="#2e2e2e">Latency to feeding</text>
<line x1="388.8" y1="21.2" x2="388.8" y2="31.7" stroke="#e0662e" stroke-width="1.2"/><path d="M386.70,21.50 L388.8,17.7 L390.90,21.50 Z" fill="#e0662e"/>
<line x1="388.8" y1="36.0" x2="388.8" y2="48.6" stroke="#4ea63c" stroke-width="1.2"/><path d="M386.70,48.30 L388.8,52.1 L390.90,48.30 Z" fill="#4ea63c"/>
<text x="352" y="76.0" font-size="7.9" text-anchor="middle" fill="#2e2e2e">Improving the</text>
<text x="352" y="84.4" font-size="7.9" text-anchor="middle" fill="#2e2e2e">morphology of</text>
<text x="352" y="93.0" font-size="7.9" text-anchor="middle" fill="#2e2e2e">hippocampal cells</text>
<text x="341.9" y="119.9" font-size="7.9" fill="#2e2e2e">NE</text>
<text x="341.9" y="131.5" font-size="7.9" fill="#2e2e2e">DA</text>
<text x="341.9" y="143.3" font-size="7.9" fill="#2e2e2e">5-HT</text>
<line x1="367.5" y1="116.8" x2="367.5" y2="143.6" stroke="#e0662e" stroke-width="1.2"/><path d="M365.40,117.10 L367.5,113.3 L369.60,117.10 Z" fill="#e0662e"/>
<text x="340.9" y="168.5" font-size="7.9" fill="#2e2e2e">CRH</text>
<text x="340.9" y="179.6" font-size="7.9" fill="#2e2e2e">ACTH</text>
<text x="340.9" y="191.4" font-size="7.9" fill="#2e2e2e">CORT</text>
<line x1="368.5" y1="163.5" x2="368.5" y2="188.9" stroke="#4ea63c" stroke-width="1.2"/><path d="M366.40,188.60 L368.5,192.4 L370.60,188.60 Z" fill="#4ea63c"/>
<text x="340.9" y="214.8" font-size="7.9" fill="#2e2e2e">TNF-α</text>
<text x="340.9" y="225.4" font-size="7.9" fill="#2e2e2e">IL-1β</text>
<text x="340.9" y="238.2" font-size="7.9" fill="#2e2e2e">IL-10</text>
<line x1="368.7" y1="209.4" x2="368.7" y2="222.4" stroke="#4ea63c" stroke-width="1.2"/><path d="M366.60,222.10 L368.7,225.9 L370.80,222.10 Z" fill="#4ea63c"/>
<line x1="368.7" y1="234.3" x2="368.7" y2="242.4" stroke="#e0662e" stroke-width="1.2"/><path d="M366.60,234.60 L368.7,230.8 L370.80,234.60 Z" fill="#e0662e"/>
<text x="341.6" y="270.9" font-size="7.9" fill="#2e2e2e">BDNF</text>
<text x="337.2" y="282.4" font-size="7.9" fill="#2e2e2e">( CREB )</text>
<line x1="369.9" y1="267.7" x2="369.9" y2="284.4" stroke="#e0662e" stroke-width="1.2"/><path d="M367.80,268.00 L369.9,264.2 L372.00,268.00 Z" fill="#e0662e"/>
<text x="318.7" y="309.7" font-size="7.9" font-style="italic" fill="#2e2e2e">Clostridia</text>
<text x="318.7" y="320.0" font-size="7.9" font-style="italic" fill="#2e2e2e">Frisingicoccus</text>
<text x="318.7" y="329.9" font-size="7.9" font-style="italic" fill="#2e2e2e">Fusicatenibacter</text>
<line x1="377.8" y1="303.8" x2="377.8" y2="312.7" stroke="#e0662e" stroke-width="1.2"/><path d="M375.70,304.10 L377.8,300.3 L379.90,304.10 Z" fill="#e0662e"/>
<line x1="377.8" y1="316.6" x2="377.8" y2="330.4" stroke="#4ea63c" stroke-width="1.2"/><path d="M375.70,330.10 L377.8,333.9 L379.90,330.10 Z" fill="#4ea63c"/>
<text x="314.3" y="364.6" font-size="7.9" fill="#2e2e2e">Tryptophan metabolism</text>
<text x="314.3" y="378.1" font-size="7.9" fill="#2e2e2e">Porphyrin metabolism</text>
<line x1="392.6" y1="359.5" x2="392.6" y2="366.5" stroke="#e0662e" stroke-width="1.2"/><path d="M390.50,359.80 L392.6,356.0 L394.70,359.80 Z" fill="#e0662e"/>
<line x1="392.1" y1="371.5" x2="392.1" y2="378.8" stroke="#4ea63c" stroke-width="1.2"/><path d="M390.00,378.50 L392.1,382.3 L394.20,378.50 Z" fill="#4ea63c"/><!--/MID--></g>
<!-- ============ RIGHT PANEL ============ -->

<g id="right"><!--RIGHT--><rect x="402.5" y="1.6" width="285.8" height="388" fill="none" stroke="#c9d8f1" stroke-width="1"/>
<text x="510.7" y="13" font-size="10.1" font-weight="bold" fill="#4a72b8">Partial Results</text>
<circle cx="411" cy="21.9" r="4.6" fill="#fff" stroke="#6a94dc" stroke-width="0.9"/><text x="411" y="24.5" font-size="7.4" font-weight="bold" text-anchor="middle" fill="#5a85d2">1</text>
<circle cx="544.1" cy="22.2" r="4.6" fill="#fff" stroke="#6a94dc" stroke-width="0.9"/><text x="544.1" y="24.8" font-size="7.4" font-weight="bold" text-anchor="middle" fill="#5a85d2">2</text>
<circle cx="409.5" cy="112.3" r="4.6" fill="#fff" stroke="#6a94dc" stroke-width="0.9"/><text x="409.5" y="114.9" font-size="7.4" font-weight="bold" text-anchor="middle" fill="#5a85d2">3</text>
<circle cx="545.2" cy="112.8" r="4.6" fill="#fff" stroke="#6a94dc" stroke-width="0.9"/><text x="545.2" y="115.4" font-size="7.4" font-weight="bold" text-anchor="middle" fill="#5a85d2">4</text>
<circle cx="410.5" cy="205.2" r="4.6" fill="#fff" stroke="#6a94dc" stroke-width="0.9"/><text x="410.5" y="207.8" font-size="7.4" font-weight="bold" text-anchor="middle" fill="#5a85d2">5</text>
<circle cx="555.2" cy="205.2" r="4.6" fill="#fff" stroke="#6a94dc" stroke-width="0.9"/><text x="555.2" y="207.8" font-size="7.4" font-weight="bold" text-anchor="middle" fill="#5a85d2">6</text>
<circle cx="412.8" cy="297.7" r="4.6" fill="#fff" stroke="#6a94dc" stroke-width="0.9"/><text x="412.8" y="300.3" font-size="7.4" font-weight="bold" text-anchor="middle" fill="#5a85d2">7</text>
<circle cx="555.7" cy="297.7" r="4.6" fill="#fff" stroke="#6a94dc" stroke-width="0.9"/><text x="555.7" y="300.3" font-size="7.4" font-weight="bold" text-anchor="middle" fill="#5a85d2">8</text>
<line x1="425.5" y1="24.3" x2="425.5" y2="87.7" stroke="#111" stroke-width="0.8"/>
<line x1="423.7" y1="87.70" x2="425.5" y2="87.70" stroke="#111" stroke-width="0.7"/>
<text x="423.0" y="89.2" font-size="4.5" font-weight="bold" text-anchor="end" fill="#111">0</text>
<line x1="423.7" y1="75.08" x2="425.5" y2="75.08" stroke="#111" stroke-width="0.7"/>
<text x="423.0" y="76.6" font-size="4.5" font-weight="bold" text-anchor="end" fill="#111">20</text>
<line x1="423.7" y1="62.46" x2="425.5" y2="62.46" stroke="#111" stroke-width="0.7"/>
<text x="423.0" y="64.0" font-size="4.5" font-weight="bold" text-anchor="end" fill="#111">40</text>
<line x1="423.7" y1="49.84" x2="425.5" y2="49.84" stroke="#111" stroke-width="0.7"/>
<text x="423.0" y="51.4" font-size="4.5" font-weight="bold" text-anchor="end" fill="#111">60</text>
<line x1="423.7" y1="37.22" x2="425.5" y2="37.22" stroke="#111" stroke-width="0.7"/>
<text x="423.0" y="38.8" font-size="4.5" font-weight="bold" text-anchor="end" fill="#111">80</text>
<line x1="423.7" y1="24.60" x2="425.5" y2="24.60" stroke="#111" stroke-width="0.7"/>
<text x="423.0" y="26.2" font-size="4.5" font-weight="bold" text-anchor="end" fill="#111">100</text>
<line x1="425.5" y1="87.7" x2="537" y2="87.7" stroke="#111" stroke-width="0.8"/>
<line x1="438.10" y1="34.4" x2="438.10" y2="32.20" stroke="#111" stroke-width="0.8"/>
<line x1="435.90" y1="32.20" x2="440.30" y2="32.20" stroke="#111" stroke-width="0.8"/>
<rect x="432.45" y="34.40" width="11.30" height="53.30" fill="#ffffff" stroke="#111" stroke-width="0.95"/>
<line x1="438.10" y1="87.7" x2="438.10" y2="89.0" stroke="#111" stroke-width="0.5"/>
<text x="438.1" y="94.5" font-size="4.5" font-weight="bold" text-anchor="middle" fill="#111">Control</text>
<line x1="456.25" y1="48.5" x2="456.25" y2="46.70" stroke="#111" stroke-width="0.8"/>
<line x1="454.05" y1="46.70" x2="458.45" y2="46.70" stroke="#111" stroke-width="0.8"/>
<rect x="450.55" y="48.50" width="11.40" height="39.20" fill="#000000" stroke="#111" stroke-width="0.95"/>
<line x1="456.25" y1="87.7" x2="456.25" y2="89.0" stroke="#111" stroke-width="0.5"/>
<text x="456.2" y="94.5" font-size="4.5" font-weight="bold" text-anchor="middle" fill="#111">CUMS</text>
<text x="456.2" y="45.8" font-size="5.6" font-weight="bold" text-anchor="middle" fill="#111">##</text>
<line x1="474.30" y1="46.5" x2="474.30" y2="44.10" stroke="#111" stroke-width="0.8"/>
<line x1="472.10" y1="44.10" x2="476.50" y2="44.10" stroke="#111" stroke-width="0.8"/>
<rect x="468.75" y="46.50" width="11.10" height="41.20" fill="#d2f5e2" stroke="#111" stroke-width="0.95"/>
<line x1="474.30" y1="87.7" x2="474.30" y2="89.0" stroke="#111" stroke-width="0.5"/>
<text x="474.3" y="94.5" font-size="4.5" font-weight="bold" text-anchor="middle" fill="#111">10</text>
<line x1="492.65" y1="42.5" x2="492.65" y2="41.70" stroke="#111" stroke-width="0.8"/>
<line x1="490.45" y1="41.70" x2="494.85" y2="41.70" stroke="#111" stroke-width="0.8"/>
<rect x="487.15" y="42.50" width="11.00" height="45.20" fill="#8ae3aa" stroke="#111" stroke-width="0.95"/>
<line x1="492.65" y1="87.7" x2="492.65" y2="89.0" stroke="#111" stroke-width="0.5"/>
<text x="492.6" y="94.5" font-size="4.5" font-weight="bold" text-anchor="middle" fill="#111">20</text>
<text x="492.6" y="40.8" font-size="5.6" font-weight="bold" text-anchor="middle" fill="#111">**</text>
<line x1="511.00" y1="42.2" x2="511.00" y2="40.40" stroke="#111" stroke-width="0.8"/>
<line x1="508.80" y1="40.40" x2="513.20" y2="40.40" stroke="#111" stroke-width="0.8"/>
<rect x="505.45" y="42.20" width="11.10" height="45.50" fill="#5daa72" stroke="#111" stroke-width="0.95"/>
<line x1="511.00" y1="87.7" x2="511.00" y2="89.0" stroke="#111" stroke-width="0.5"/>
<text x="511.0" y="94.5" font-size="4.5" font-weight="bold" text-anchor="middle" fill="#111">40</text>
<text x="511.0" y="39.5" font-size="5.6" font-weight="bold" text-anchor="middle" fill="#111">**</text>
<line x1="529.35" y1="40.4" x2="529.35" y2="37.40" stroke="#111" stroke-width="0.8"/>
<line x1="527.15" y1="37.40" x2="531.55" y2="37.40" stroke="#111" stroke-width="0.8"/>
<rect x="523.85" y="40.40" width="11.00" height="47.30" fill="#f2d27e" stroke="#111" stroke-width="0.95"/>
<line x1="529.35" y1="87.7" x2="529.35" y2="89.0" stroke="#111" stroke-width="0.5"/>
<text x="529.4" y="94.5" font-size="4.5" font-weight="bold" text-anchor="middle" fill="#111">CUMS + Flu</text>
<text x="529.4" y="36.5" font-size="5.6" font-weight="bold" text-anchor="middle" fill="#111">**</text>
<line x1="471.1" y1="97.6" x2="514.6" y2="97.6" stroke="#111" stroke-width="0.6"/>
<text x="492.9" y="103.0" font-size="4.45" font-weight="bold" text-anchor="middle" fill="#111">CUMS + HLTP (mg/kg)</text>
<text x="414.6" y="56.2" font-size="4.9" font-weight="bold" text-anchor="middle" fill="#111" transform="rotate(-90 414.6 56.2)">Sucrose preference (%)</text>
<line x1="426.3" y1="116.4" x2="426.3" y2="181.5" stroke="#111" stroke-width="0.8"/>
<line x1="424.5" y1="181.50" x2="426.3" y2="181.50" stroke="#111" stroke-width="0.7"/>
<text x="423.8" y="183.1" font-size="4.5" font-weight="bold" text-anchor="end" fill="#111">0</text>
<line x1="424.5" y1="165.30" x2="426.3" y2="165.30" stroke="#111" stroke-width="0.7"/>
<text x="423.8" y="166.9" font-size="4.5" font-weight="bold" text-anchor="end" fill="#111">2</text>
<line x1="424.5" y1="149.10" x2="426.3" y2="149.10" stroke="#111" stroke-width="0.7"/>
<text x="423.8" y="150.7" font-size="4.5" font-weight="bold" text-anchor="end" fill="#111">4</text>
<line x1="424.5" y1="132.90" x2="426.3" y2="132.90" stroke="#111" stroke-width="0.7"/>
<text x="423.8" y="134.5" font-size="4.5" font-weight="bold" text-anchor="end" fill="#111">6</text>
<line x1="424.5" y1="116.70" x2="426.3" y2="116.70" stroke="#111" stroke-width="0.7"/>
<text x="423.8" y="118.2" font-size="4.5" font-weight="bold" text-anchor="end" fill="#111">8</text>
<line x1="426.3" y1="181.5" x2="541" y2="181.5" stroke="#111" stroke-width="0.8"/>
<line x1="439.95" y1="131.7" x2="439.95" y2="129.80" stroke="#111" stroke-width="0.8"/>
<line x1="437.75" y1="129.80" x2="442.15" y2="129.80" stroke="#111" stroke-width="0.8"/>
<rect x="434.45" y="131.70" width="11.00" height="49.80" fill="#ffffff" stroke="#111" stroke-width="0.95"/>
<line x1="439.95" y1="181.5" x2="439.95" y2="182.8" stroke="#111" stroke-width="0.5"/>
<text x="440.0" y="188.4" font-size="4.5" font-weight="bold" text-anchor="middle" fill="#111">Control</text>
<line x1="458.65" y1="168.6" x2="458.65" y2="166.10" stroke="#111" stroke-width="0.8"/>
<line x1="456.45" y1="166.10" x2="460.85" y2="166.10" stroke="#111" stroke-width="0.8"/>
<rect x="452.95" y="168.60" width="11.40" height="12.90" fill="#000000" stroke="#111" stroke-width="0.95"/>
<line x1="458.65" y1="181.5" x2="458.65" y2="182.8" stroke="#111" stroke-width="0.5"/>
<text x="458.6" y="188.4" font-size="4.5" font-weight="bold" text-anchor="middle" fill="#111">CUMS</text>
<text x="458.6" y="165.2" font-size="5.6" font-weight="bold" text-anchor="middle" fill="#111">##</text>
<line x1="477.65" y1="140.2" x2="477.65" y2="137.90" stroke="#111" stroke-width="0.8"/>
<line x1="475.45" y1="137.90" x2="479.85" y2="137.90" stroke="#111" stroke-width="0.8"/>
<rect x="471.95" y="140.20" width="11.40" height="41.30" fill="#d2f5e2" stroke="#111" stroke-width="0.95"/>
<line x1="477.65" y1="181.5" x2="477.65" y2="182.8" stroke="#111" stroke-width="0.5"/>
<text x="477.6" y="188.4" font-size="4.5" font-weight="bold" text-anchor="middle" fill="#111">10</text>
<text x="477.6" y="137.0" font-size="5.6" font-weight="bold" text-anchor="middle" fill="#111">**</text>
<line x1="496.45" y1="137.0" x2="496.45" y2="135.00" stroke="#111" stroke-width="0.8"/>
<line x1="494.25" y1="135.00" x2="498.65" y2="135.00" stroke="#111" stroke-width="0.8"/>
<rect x="490.85" y="137.00" width="11.20" height="44.50" fill="#8ae3aa" stroke="#111" stroke-width="0.95"/>
<line x1="496.45" y1="181.5" x2="496.45" y2="182.8" stroke="#111" stroke-width="0.5"/>
<text x="496.4" y="188.4" font-size="4.5" font-weight="bold" text-anchor="middle" fill="#111">20</text>
<text x="496.4" y="134.1" font-size="5.6" font-weight="bold" text-anchor="middle" fill="#111">**</text>
<line x1="515.00" y1="136.1" x2="515.00" y2="134.50" stroke="#111" stroke-width="0.8"/>
<line x1="512.80" y1="134.50" x2="517.20" y2="134.50" stroke="#111" stroke-width="0.8"/>
<rect x="509.55" y="136.10" width="10.90" height="45.40" fill="#5daa72" stroke="#111" stroke-width="0.95"/>
<line x1="515.00" y1="181.5" x2="515.00" y2="182.8" stroke="#111" stroke-width="0.5"/>
<text x="515.0" y="188.4" font-size="4.5" font-weight="bold" text-anchor="middle" fill="#111">40</text>
<text x="515.0" y="133.6" font-size="5.6" font-weight="bold" text-anchor="middle" fill="#111">**</text>
<line x1="533.45" y1="133.6" x2="533.45" y2="131.70" stroke="#111" stroke-width="0.8"/>
<line x1="531.25" y1="131.70" x2="535.65" y2="131.70" stroke="#111" stroke-width="0.8"/>
<rect x="527.75" y="133.60" width="11.40" height="47.90" fill="#f2d27e" stroke="#111" stroke-width="0.95"/>
<line x1="533.45" y1="181.5" x2="533.45" y2="182.8" stroke="#111" stroke-width="0.5"/>
<text x="533.5" y="188.4" font-size="4.5" font-weight="bold" text-anchor="middle" fill="#111">CUMS + Flu</text>
<text x="533.5" y="130.8" font-size="5.6" font-weight="bold" text-anchor="middle" fill="#111">**</text>
<line x1="471.6" y1="192.9" x2="521.3" y2="192.9" stroke="#111" stroke-width="0.6"/>
<text x="496.4" y="198.3" font-size="4.45" font-weight="bold" text-anchor="middle" fill="#111">CUMS + HLTP (mg/kg)</text>
<text x="417.8" y="145.4" font-size="4.75" font-weight="bold" text-anchor="middle" fill="#111" transform="rotate(-90 417.8 145.4)">Brain NE level (μg/g)</text>
<line x1="566.6" y1="116.4" x2="566.6" y2="180.3" stroke="#111" stroke-width="0.8"/>
<line x1="564.8000000000001" y1="180.30" x2="566.6" y2="180.30" stroke="#111" stroke-width="0.7"/>
<text x="564.1" y="181.9" font-size="4.5" font-weight="bold" text-anchor="end" fill="#111">0</text>
<line x1="564.8000000000001" y1="171.21" x2="566.6" y2="171.21" stroke="#111" stroke-width="0.7"/>
<text x="564.1" y="172.8" font-size="4.5" font-weight="bold" text-anchor="end" fill="#111">50</text>
<line x1="564.8000000000001" y1="162.13" x2="566.6" y2="162.13" stroke="#111" stroke-width="0.7"/>
<text x="564.1" y="163.7" font-size="4.5" font-weight="bold" text-anchor="end" fill="#111">100</text>
<line x1="564.8000000000001" y1="153.04" x2="566.6" y2="153.04" stroke="#111" stroke-width="0.7"/>
<text x="564.1" y="154.6" font-size="4.5" font-weight="bold" text-anchor="end" fill="#111">150</text>
<line x1="564.8000000000001" y1="143.96" x2="566.6" y2="143.96" stroke="#111" stroke-width="0.7"/>
<text x="564.1" y="145.5" font-size="4.5" font-weight="bold" text-anchor="end" fill="#111">200</text>
<line x1="564.8000000000001" y1="134.87" x2="566.6" y2="134.87" stroke="#111" stroke-width="0.7"/>
<text x="564.1" y="136.4" font-size="4.5" font-weight="bold" text-anchor="end" fill="#111">250</text>
<line x1="564.8000000000001" y1="125.79" x2="566.6" y2="125.79" stroke="#111" stroke-width="0.7"/>
<text x="564.1" y="127.3" font-size="4.5" font-weight="bold" text-anchor="end" fill="#111">300</text>
<line x1="564.8000000000001" y1="116.70" x2="566.6" y2="116.70" stroke="#111" stroke-width="0.7"/>
<text x="564.1" y="118.2" font-size="4.5" font-weight="bold" text-anchor="end" fill="#111">350</text>
<line x1="566.6" y1="180.3" x2="680" y2="180.3" stroke="#111" stroke-width="0.8"/>
<line x1="579.50" y1="148.3" x2="579.50" y2="142.10" stroke="#111" stroke-width="0.8"/>
<line x1="577.30" y1="142.10" x2="581.70" y2="142.10" stroke="#111" stroke-width="0.8"/>
<rect x="573.75" y="148.30" width="11.50" height="32.00" fill="#ffffff" stroke="#111" stroke-width="0.95"/>
<line x1="579.50" y1="180.3" x2="579.50" y2="181.60000000000002" stroke="#111" stroke-width="0.5"/>
<text x="579.5" y="187.1" font-size="4.5" font-weight="bold" text-anchor="middle" fill="#111">Control</text>
<line x1="597.50" y1="129.8" x2="597.50" y2="124.30" stroke="#111" stroke-width="0.8"/>
<line x1="595.30" y1="124.30" x2="599.70" y2="124.30" stroke="#111" stroke-width="0.8"/>
<rect x="591.75" y="129.80" width="11.50" height="50.50" fill="#000000" stroke="#111" stroke-width="0.95"/>
<line x1="597.50" y1="180.3" x2="597.50" y2="181.60000000000002" stroke="#111" stroke-width="0.5"/>
<text x="597.5" y="187.1" font-size="4.5" font-weight="bold" text-anchor="middle" fill="#111">CUMS</text>
<text x="597.5" y="123.4" font-size="5.6" font-weight="bold" text-anchor="middle" fill="#111">##</text>
<line x1="616.50" y1="142.7" x2="616.50" y2="137.20" stroke="#111" stroke-width="0.8"/>
<line x1="614.30" y1="137.20" x2="618.70" y2="137.20" stroke="#111" stroke-width="0.8"/>
<rect x="611.15" y="142.70" width="10.70" height="37.60" fill="#d2f5e2" stroke="#111" stroke-width="0.95"/>
<line x1="616.50" y1="180.3" x2="616.50" y2="181.60000000000002" stroke="#111" stroke-width="0.5"/>
<text x="616.5" y="187.1" font-size="4.5" font-weight="bold" text-anchor="middle" fill="#111">10</text>
<text x="616.5" y="136.3" font-size="5.6" font-weight="bold" text-anchor="middle" fill="#111">*</text>
<line x1="634.60" y1="145.1" x2="634.60" y2="140.50" stroke="#111" stroke-width="0.8"/>
<line x1="632.40" y1="140.50" x2="636.80" y2="140.50" stroke="#111" stroke-width="0.8"/>
<rect x="628.85" y="145.10" width="11.50" height="35.20" fill="#8ae3aa" stroke="#111" stroke-width="0.95"/>
<line x1="634.60" y1="180.3" x2="634.60" y2="181.60000000000002" stroke="#111" stroke-width="0.5"/>
<text x="634.6" y="187.1" font-size="4.5" font-weight="bold" text-anchor="middle" fill="#111">20</text>
<text x="634.6" y="139.6" font-size="5.6" font-weight="bold" text-anchor="middle" fill="#111">**</text>
<line x1="653.15" y1="146.3" x2="653.15" y2="144.30" stroke="#111" stroke-width="0.8"/>
<line x1="650.95" y1="144.30" x2="655.35" y2="144.30" stroke="#111" stroke-width="0.8"/>
<rect x="647.55" y="146.30" width="11.20" height="34.00" fill="#5daa72" stroke="#111" stroke-width="0.95"/>
<line x1="653.15" y1="180.3" x2="653.15" y2="181.60000000000002" stroke="#111" stroke-width="0.5"/>
<text x="653.2" y="187.1" font-size="4.5" font-weight="bold" text-anchor="middle" fill="#111">40</text>
<text x="653.2" y="143.4" font-size="5.6" font-weight="bold" text-anchor="middle" fill="#111">**</text>
<line x1="671.55" y1="140.2" x2="671.55" y2="135.40" stroke="#111" stroke-width="0.8"/>
<line x1="669.35" y1="135.40" x2="673.75" y2="135.40" stroke="#111" stroke-width="0.8"/>
<rect x="665.85" y="140.20" width="11.40" height="40.10" fill="#f2d27e" stroke="#111" stroke-width="0.95"/>
<line x1="671.55" y1="180.3" x2="671.55" y2="181.60000000000002" stroke="#111" stroke-width="0.5"/>
<text x="671.5" y="187.1" font-size="4.5" font-weight="bold" text-anchor="middle" fill="#111">CUMS + Flu</text>
<text x="671.5" y="134.5" font-size="5.6" font-weight="bold" text-anchor="middle" fill="#111">*</text>
<line x1="612" y1="191.2" x2="659.4" y2="191.2" stroke="#111" stroke-width="0.6"/>
<text x="635.7" y="196.8" font-size="4.45" font-weight="bold" text-anchor="middle" fill="#111">CUMS + HLTP (mg/kg)</text>
<text x="555.2" y="146" font-size="4.6" font-weight="bold" text-anchor="middle" fill="#111" transform="rotate(-90 555.2 146)">Serum CRH level (ng/L)</text>
<filter id="tex" x="0" y="0" width="100%" height="100%"><feTurbulence type="fractalNoise" baseFrequency="0.7" numOctaves="2" seed="5"/><feColorMatrix type="matrix" values="0 0 0 0 0.62  0 0 0 0 0.28  0 0 0 0 0.66  1.6 0 0 0 -0.72"/></filter>
<filter id="tex2" x="0" y="0" width="100%" height="100%"><feTurbulence type="fractalNoise" baseFrequency="0.6" numOctaves="2" seed="9"/><feColorMatrix type="matrix" values="0 0 0 0 1  0 0 0 0 1  0 0 0 0 1  1.6 0 0 0 -0.75"/></filter>
<linearGradient id="he0" x1="0" y1="0" x2="0" y2="1"><stop offset="0" stop-color="#ebcdeb"/><stop offset="0.5" stop-color="#ebcdeb"/><stop offset="0.72" stop-color="#f4e6f4"/><stop offset="0.9" stop-color="#f4e6f4"/><stop offset="1" stop-color="#ebcdeb"/></linearGradient>
<rect x="550.9" y="26.6" width="42.5" height="30.1" fill="url(#he0)"/>
<rect x="550.9" y="26.6" width="42.5" height="30.1" fill="#fff" filter="url(#tex)" opacity="0.55"/>
<rect x="550.9" y="26.6" width="42.5" height="30.1" fill="#fff" filter="url(#tex2)" opacity="0.38"/>
<circle cx="570.2" cy="45.3" r="0.67" fill="#a868c0" opacity="0.44"/>
<circle cx="572.5" cy="45.9" r="0.41" fill="#a868c0" opacity="0.45"/>
<circle cx="577.4" cy="50.5" r="0.38" fill="#a868c0" opacity="0.39"/>
<circle cx="555.6" cy="50.9" r="0.59" fill="#a868c0" opacity="0.31"/>
<circle cx="591.7" cy="54.4" r="0.58" fill="#a868c0" opacity="0.48"/>
<circle cx="558.3" cy="33.0" r="0.53" fill="#a868c0" opacity="0.32"/>
<circle cx="559.6" cy="38.1" r="0.36" fill="#a868c0" opacity="0.44"/>
<circle cx="569.7" cy="51.6" r="0.53" fill="#a868c0" opacity="0.49"/>
<circle cx="572.1" cy="47.6" r="0.51" fill="#a868c0" opacity="0.38"/>
<circle cx="592.3" cy="55.1" r="0.64" fill="#a868c0" opacity="0.51"/>
<circle cx="564.7" cy="37.8" r="0.45" fill="#a868c0" opacity="0.32"/>
<circle cx="582.9" cy="41.7" r="0.65" fill="#a868c0" opacity="0.42"/>
<circle cx="590.7" cy="51.7" r="0.35" fill="#a868c0" opacity="0.36"/>
<circle cx="588.8" cy="43.2" r="0.69" fill="#a868c0" opacity="0.42"/>
<rect x="588.4" y="54.300000000000004" width="3.2" height="0.7" fill="#333"/>
<text x="572.1" y="24.4" font-size="3.6" font-weight="bold" text-anchor="middle" fill="#111">Control</text>
<linearGradient id="he1" x1="0" y1="0" x2="0" y2="1"><stop offset="0" stop-color="#e0a9e0"/><stop offset="0.5" stop-color="#e0a9e0"/><stop offset="0.72" stop-color="#e4b2e4"/><stop offset="0.9" stop-color="#e4b2e4"/><stop offset="1" stop-color="#e0a9e0"/></linearGradient>
<rect x="595.3" y="26.6" width="42.7" height="30.1" fill="url(#he1)"/>
<rect x="595.3" y="26.6" width="42.7" height="30.1" fill="#fff" filter="url(#tex)" opacity="0.55"/>
<rect x="595.3" y="26.6" width="42.7" height="30.1" fill="#fff" filter="url(#tex2)" opacity="0.38"/>
<circle cx="599.1" cy="37.4" r="0.52" fill="#a050b8" opacity="0.33"/>
<circle cx="609.8" cy="36.6" r="0.83" fill="#a050b8" opacity="0.57"/>
<circle cx="600.9" cy="40.2" r="0.43" fill="#a050b8" opacity="0.58"/>
<circle cx="603.4" cy="41.1" r="0.65" fill="#a050b8" opacity="0.46"/>
<circle cx="603.9" cy="39.9" r="0.69" fill="#a050b8" opacity="0.34"/>
<circle cx="613.4" cy="38.2" r="0.50" fill="#a050b8" opacity="0.39"/>
<circle cx="636.0" cy="38.8" r="0.80" fill="#a050b8" opacity="0.37"/>
<circle cx="612.3" cy="37.6" r="0.78" fill="#a050b8" opacity="0.52"/>
<circle cx="600.2" cy="41.9" r="0.52" fill="#a050b8" opacity="0.57"/>
<circle cx="609.6" cy="39.6" r="0.53" fill="#a050b8" opacity="0.33"/>
<circle cx="599.8" cy="38.7" r="0.67" fill="#a050b8" opacity="0.43"/>
<circle cx="614.7" cy="38.5" r="0.83" fill="#a050b8" opacity="0.47"/>
<circle cx="619.7" cy="40.1" r="0.47" fill="#a050b8" opacity="0.62"/>
<circle cx="629.7" cy="37.3" r="0.51" fill="#a050b8" opacity="0.37"/>
<circle cx="626.5" cy="40.1" r="0.83" fill="#a050b8" opacity="0.61"/>
<circle cx="620.9" cy="38.4" r="0.59" fill="#a050b8" opacity="0.34"/>
<circle cx="597.7" cy="42.1" r="0.72" fill="#a050b8" opacity="0.39"/>
<circle cx="630.0" cy="38.0" r="0.67" fill="#a050b8" opacity="0.40"/>
<circle cx="603.3" cy="39.9" r="0.50" fill="#a050b8" opacity="0.50"/>
<circle cx="631.1" cy="37.5" r="0.68" fill="#a050b8" opacity="0.40"/>
<circle cx="633.8" cy="38.3" r="0.52" fill="#a050b8" opacity="0.46"/>
<circle cx="598.6" cy="40.7" r="0.48" fill="#a050b8" opacity="0.43"/>
<circle cx="619.6" cy="40.6" r="0.80" fill="#a050b8" opacity="0.64"/>
<circle cx="623.1" cy="40.5" r="0.71" fill="#a050b8" opacity="0.50"/>
<circle cx="601.9" cy="40.6" r="0.81" fill="#a050b8" opacity="0.55"/>
<circle cx="635.7" cy="38.2" r="0.41" fill="#a050b8" opacity="0.52"/>
<circle cx="615.9" cy="39.0" r="0.85" fill="#a050b8" opacity="0.33"/>
<circle cx="618.5" cy="37.0" r="0.73" fill="#a050b8" opacity="0.62"/>
<circle cx="626.4" cy="37.4" r="0.81" fill="#a050b8" opacity="0.42"/>
<circle cx="624.3" cy="34.7" r="0.81" fill="#a050b8" opacity="0.60"/>
<circle cx="613.2" cy="40.7" r="0.66" fill="#a050b8" opacity="0.52"/>
<circle cx="611.8" cy="34.9" r="0.66" fill="#a050b8" opacity="0.51"/>
<circle cx="599.4" cy="35.4" r="0.80" fill="#a050b8" opacity="0.55"/>
<circle cx="612.1" cy="33.7" r="0.73" fill="#a050b8" opacity="0.50"/>
<circle cx="614.2" cy="39.9" r="0.74" fill="#a050b8" opacity="0.31"/>
<circle cx="620.8" cy="38.1" r="0.62" fill="#a050b8" opacity="0.38"/>
<circle cx="624.8" cy="35.4" r="0.81" fill="#a050b8" opacity="0.39"/>
<circle cx="596.6" cy="40.5" r="0.54" fill="#a050b8" opacity="0.54"/>
<circle cx="604.4" cy="42.5" r="0.70" fill="#a050b8" opacity="0.45"/>
<circle cx="632.7" cy="42.8" r="0.55" fill="#a050b8" opacity="0.53"/>
<circle cx="604.3" cy="36.0" r="0.81" fill="#a050b8" opacity="0.61"/>
<circle cx="611.9" cy="41.4" r="0.66" fill="#a050b8" opacity="0.41"/>
<circle cx="601.7" cy="35.6" r="0.78" fill="#a050b8" opacity="0.55"/>
<circle cx="635.1" cy="38.2" r="0.52" fill="#a050b8" opacity="0.36"/>
<circle cx="614.6" cy="39.1" r="0.59" fill="#a050b8" opacity="0.52"/>
<circle cx="616.4" cy="40.9" r="0.54" fill="#a050b8" opacity="0.59"/>
<circle cx="636.5" cy="37.1" r="0.41" fill="#a050b8" opacity="0.61"/>
<circle cx="597.8" cy="40.7" r="0.72" fill="#a050b8" opacity="0.50"/>
<circle cx="608.8" cy="39.8" r="0.46" fill="#a050b8" opacity="0.46"/>
<circle cx="597.1" cy="40.0" r="0.77" fill="#a050b8" opacity="0.38"/>
<circle cx="601.9" cy="43.4" r="0.60" fill="#a050b8" opacity="0.52"/>
<circle cx="623.0" cy="39.8" r="0.76" fill="#a050b8" opacity="0.64"/>
<circle cx="624.2" cy="39.6" r="0.48" fill="#a050b8" opacity="0.30"/>
<circle cx="615.5" cy="41.9" r="0.72" fill="#a050b8" opacity="0.36"/>
<circle cx="607.3" cy="37.7" r="0.63" fill="#a050b8" opacity="0.52"/>
<circle cx="627.2" cy="41.7" r="0.58" fill="#a050b8" opacity="0.58"/>
<circle cx="633.3" cy="43.0" r="0.73" fill="#a050b8" opacity="0.35"/>
<circle cx="614.7" cy="42.3" r="0.68" fill="#a050b8" opacity="0.62"/>
<circle cx="611.6" cy="35.1" r="0.76" fill="#a050b8" opacity="0.63"/>
<circle cx="615.2" cy="37.3" r="0.69" fill="#a050b8" opacity="0.37"/>
<circle cx="625.8" cy="40.1" r="0.72" fill="#a050b8" opacity="0.37"/>
<circle cx="633.1" cy="35.1" r="0.84" fill="#a050b8" opacity="0.64"/>
<circle cx="618.2" cy="39.7" r="0.81" fill="#a050b8" opacity="0.60"/>
<circle cx="610.4" cy="37.6" r="0.44" fill="#a050b8" opacity="0.45"/>
<circle cx="618.7" cy="39.4" r="0.41" fill="#a050b8" opacity="0.58"/>
<circle cx="598.7" cy="37.6" r="0.76" fill="#a050b8" opacity="0.36"/>
<circle cx="609.9" cy="40.0" r="0.47" fill="#a050b8" opacity="0.48"/>
<circle cx="625.8" cy="37.4" r="0.78" fill="#a050b8" opacity="0.54"/>
<circle cx="635.0" cy="32.3" r="0.44" fill="#a050b8" opacity="0.38"/>
<circle cx="617.7" cy="39.4" r="0.53" fill="#a050b8" opacity="0.56"/>
<circle cx="622.4" cy="34.3" r="0.65" fill="#a050b8" opacity="0.41"/>
<circle cx="611.8" cy="38.9" r="0.78" fill="#a050b8" opacity="0.62"/>
<circle cx="604.7" cy="43.7" r="0.64" fill="#a050b8" opacity="0.50"/>
<circle cx="604.4" cy="34.9" r="0.64" fill="#a050b8" opacity="0.48"/>
<circle cx="621.0" cy="45.2" r="0.63" fill="#a050b8" opacity="0.44"/>
<circle cx="629.0" cy="39.6" r="0.65" fill="#a050b8" opacity="0.47"/>
<circle cx="624.5" cy="41.5" r="0.59" fill="#a050b8" opacity="0.63"/>
<circle cx="634.1" cy="39.4" r="0.52" fill="#a050b8" opacity="0.47"/>
<circle cx="601.3" cy="36.1" r="0.81" fill="#a050b8" opacity="0.47"/>
<circle cx="609.1" cy="41.5" r="0.49" fill="#a050b8" opacity="0.52"/>
<circle cx="634.1" cy="41.1" r="0.41" fill="#a050b8" opacity="0.37"/>
<circle cx="605.4" cy="42.9" r="0.71" fill="#a050b8" opacity="0.41"/>
<circle cx="610.7" cy="38.8" r="0.73" fill="#a050b8" opacity="0.34"/>
<circle cx="617.1" cy="38.4" r="0.51" fill="#a050b8" opacity="0.37"/>
<circle cx="617.9" cy="37.0" r="0.59" fill="#a050b8" opacity="0.49"/>
<circle cx="602.7" cy="41.0" r="0.49" fill="#a050b8" opacity="0.52"/>
<circle cx="622.3" cy="34.3" r="0.68" fill="#a050b8" opacity="0.60"/>
<circle cx="605.7" cy="39.0" r="0.73" fill="#a050b8" opacity="0.58"/>
<circle cx="633.2" cy="37.4" r="0.82" fill="#a050b8" opacity="0.38"/>
<circle cx="637.1" cy="39.9" r="0.80" fill="#a050b8" opacity="0.35"/>
<rect x="633.0" y="54.300000000000004" width="3.2" height="0.7" fill="#333"/>
<text x="616.6" y="24.4" font-size="3.6" font-weight="bold" text-anchor="middle" fill="#111">CUMS</text>
<linearGradient id="he2" x1="0" y1="0" x2="0" y2="1"><stop offset="0" stop-color="#ebcfeb"/><stop offset="0.5" stop-color="#ebcfeb"/><stop offset="0.72" stop-color="#f3e3f3"/><stop offset="0.9" stop-color="#f3e3f3"/><stop offset="1" stop-color="#ebcfeb"/></linearGradient>
<rect x="640.2" y="26.6" width="42.0" height="30.1" fill="url(#he2)"/>
<rect x="640.2" y="26.6" width="42.0" height="30.1" fill="#fff" filter="url(#tex)" opacity="0.55"/>
<rect x="640.2" y="26.6" width="42.0" height="30.1" fill="#fff" filter="url(#tex2)" opacity="0.38"/>
<circle cx="650.8" cy="49.0" r="0.44" fill="#a868c0" opacity="0.33"/>
<circle cx="674.5" cy="42.1" r="0.63" fill="#a868c0" opacity="0.34"/>
<circle cx="657.3" cy="48.1" r="0.36" fill="#a868c0" opacity="0.36"/>
<circle cx="668.5" cy="53.2" r="0.69" fill="#a868c0" opacity="0.33"/>
<circle cx="661.4" cy="49.7" r="0.53" fill="#a868c0" opacity="0.51"/>
<circle cx="648.8" cy="34.2" r="0.39" fill="#a868c0" opacity="0.31"/>
<circle cx="663.3" cy="44.2" r="0.55" fill="#a868c0" opacity="0.34"/>
<circle cx="648.6" cy="37.2" r="0.64" fill="#a868c0" opacity="0.60"/>
<circle cx="678.3" cy="34.8" r="0.37" fill="#a868c0" opacity="0.59"/>
<circle cx="659.7" cy="49.9" r="0.46" fill="#a868c0" opacity="0.44"/>
<circle cx="661.8" cy="42.3" r="0.56" fill="#a868c0" opacity="0.30"/>
<circle cx="669.2" cy="51.7" r="0.41" fill="#a868c0" opacity="0.44"/>
<circle cx="670.8" cy="41.8" r="0.42" fill="#a868c0" opacity="0.35"/>
<circle cx="661.7" cy="33.0" r="0.66" fill="#a868c0" opacity="0.54"/>
<rect x="677.2" y="54.300000000000004" width="3.2" height="0.7" fill="#333"/>
<text x="661.2" y="24.4" font-size="3.6" font-weight="bold" text-anchor="middle" fill="#111">CUMS+HLTP(10mg/kg)</text>
<linearGradient id="he3" x1="0" y1="0" x2="0" y2="1"><stop offset="0" stop-color="#e8c6e8"/><stop offset="0.5" stop-color="#e8c6e8"/><stop offset="0.72" stop-color="#efd8ef"/><stop offset="0.9" stop-color="#efd8ef"/><stop offset="1" stop-color="#e8c6e8"/></linearGradient>
<rect x="551.1" y="66.3" width="42.6" height="30.3" fill="url(#he3)"/>
<rect x="551.1" y="66.3" width="42.6" height="30.3" fill="#fff" filter="url(#tex)" opacity="0.55"/>
<rect x="551.1" y="66.3" width="42.6" height="30.3" fill="#fff" filter="url(#tex2)" opacity="0.38"/>
<circle cx="580.7" cy="91.9" r="0.57" fill="#a868c0" opacity="0.42"/>
<circle cx="576.4" cy="83.8" r="0.69" fill="#a868c0" opacity="0.54"/>
<circle cx="562.6" cy="93.1" r="0.61" fill="#a868c0" opacity="0.53"/>
<circle cx="585.2" cy="81.6" r="0.66" fill="#a868c0" opacity="0.56"/>
<circle cx="580.3" cy="89.8" r="0.62" fill="#a868c0" opacity="0.42"/>
<circle cx="581.4" cy="74.0" r="0.47" fill="#a868c0" opacity="0.44"/>
<circle cx="552.5" cy="80.4" r="0.57" fill="#a868c0" opacity="0.49"/>
<circle cx="561.5" cy="93.8" r="0.58" fill="#a868c0" opacity="0.40"/>
<circle cx="578.9" cy="85.3" r="0.54" fill="#a868c0" opacity="0.42"/>
<circle cx="592.7" cy="87.0" r="0.60" fill="#a868c0" opacity="0.53"/>
<circle cx="591.9" cy="72.9" r="0.57" fill="#a868c0" opacity="0.52"/>
<circle cx="562.5" cy="81.5" r="0.37" fill="#a868c0" opacity="0.36"/>
<circle cx="567.4" cy="74.6" r="0.44" fill="#a868c0" opacity="0.57"/>
<circle cx="574.4" cy="83.9" r="0.69" fill="#a868c0" opacity="0.47"/>
<circle cx="592.5" cy="86.9" r="0.63" fill="#a868c0" opacity="0.32"/>
<circle cx="576.4" cy="89.6" r="0.37" fill="#a868c0" opacity="0.58"/>
<circle cx="558.6" cy="83.1" r="0.41" fill="#a868c0" opacity="0.45"/>
<circle cx="576.9" cy="73.7" r="0.68" fill="#a868c0" opacity="0.43"/>
<rect x="588.7" y="94.19999999999999" width="3.2" height="0.7" fill="#333"/>
<text x="572.4" y="64.1" font-size="3.6" font-weight="bold" text-anchor="middle" fill="#111">CUMS+HLTP(20mg/kg)</text>
<linearGradient id="he4" x1="0" y1="0" x2="0" y2="1"><stop offset="0" stop-color="#e6c2e6"/><stop offset="0.5" stop-color="#e6c2e6"/><stop offset="0.72" stop-color="#f0dcf0"/><stop offset="0.9" stop-color="#f0dcf0"/><stop offset="1" stop-color="#e6c2e6"/></linearGradient>
<rect x="596.4" y="66.3" width="41.2" height="30.3" fill="url(#he4)"/>
<rect x="596.4" y="66.3" width="41.2" height="30.3" fill="#fff" filter="url(#tex)" opacity="0.55"/>
<rect x="596.4" y="66.3" width="41.2" height="30.3" fill="#fff" filter="url(#tex2)" opacity="0.38"/>
<circle cx="618.1" cy="83.1" r="0.53" fill="#a050b8" opacity="0.53"/>
<circle cx="619.4" cy="83.5" r="0.53" fill="#a050b8" opacity="0.55"/>
<circle cx="608.9" cy="87.8" r="0.42" fill="#a050b8" opacity="0.35"/>
<circle cx="627.1" cy="84.0" r="0.58" fill="#a050b8" opacity="0.61"/>
<circle cx="626.8" cy="90.7" r="0.83" fill="#a050b8" opacity="0.33"/>
<circle cx="633.1" cy="85.4" r="0.59" fill="#a050b8" opacity="0.47"/>
<circle cx="635.7" cy="83.0" r="0.82" fill="#a050b8" opacity="0.55"/>
<circle cx="615.7" cy="88.2" r="0.84" fill="#a050b8" opacity="0.59"/>
<circle cx="621.1" cy="87.1" r="0.61" fill="#a050b8" opacity="0.37"/>
<circle cx="599.3" cy="89.4" r="0.64" fill="#a050b8" opacity="0.34"/>
<circle cx="614.7" cy="84.1" r="0.52" fill="#a050b8" opacity="0.50"/>
<circle cx="613.8" cy="83.2" r="0.75" fill="#a050b8" opacity="0.49"/>
<circle cx="636.7" cy="86.5" r="0.51" fill="#a050b8" opacity="0.34"/>
<circle cx="632.6" cy="82.1" r="0.75" fill="#a050b8" opacity="0.52"/>
<circle cx="611.4" cy="85.3" r="0.65" fill="#a050b8" opacity="0.51"/>
<circle cx="622.3" cy="88.1" r="0.74" fill="#a050b8" opacity="0.37"/>
<circle cx="607.1" cy="91.6" r="0.80" fill="#a050b8" opacity="0.31"/>
<circle cx="599.6" cy="86.5" r="0.52" fill="#a050b8" opacity="0.45"/>
<circle cx="621.9" cy="86.9" r="0.43" fill="#a050b8" opacity="0.33"/>
<circle cx="624.0" cy="86.0" r="0.65" fill="#a050b8" opacity="0.52"/>
<circle cx="612.0" cy="84.1" r="0.55" fill="#a050b8" opacity="0.56"/>
<circle cx="630.4" cy="83.7" r="0.43" fill="#a050b8" opacity="0.34"/>
<circle cx="629.2" cy="80.7" r="0.50" fill="#a050b8" opacity="0.45"/>
<circle cx="607.4" cy="83.4" r="0.76" fill="#a050b8" opacity="0.43"/>
<circle cx="623.1" cy="86.5" r="0.65" fill="#a050b8" opacity="0.56"/>
<circle cx="633.7" cy="82.9" r="0.59" fill="#a050b8" opacity="0.43"/>
<circle cx="601.0" cy="87.7" r="0.44" fill="#a050b8" opacity="0.50"/>
<circle cx="616.4" cy="84.5" r="0.71" fill="#a050b8" opacity="0.40"/>
<circle cx="627.9" cy="85.3" r="0.70" fill="#a050b8" opacity="0.33"/>
<circle cx="609.2" cy="86.8" r="0.73" fill="#a050b8" opacity="0.54"/>
<circle cx="608.4" cy="87.5" r="0.73" fill="#a050b8" opacity="0.43"/>
<circle cx="601.8" cy="88.7" r="0.72" fill="#a050b8" opacity="0.50"/>
<circle cx="633.6" cy="88.0" r="0.60" fill="#a050b8" opacity="0.58"/>
<circle cx="609.3" cy="84.1" r="0.54" fill="#a050b8" opacity="0.44"/>
<circle cx="634.2" cy="84.5" r="0.56" fill="#a050b8" opacity="0.43"/>
<circle cx="611.6" cy="84.6" r="0.58" fill="#a050b8" opacity="0.44"/>
<circle cx="604.9" cy="82.6" r="0.64" fill="#a050b8" opacity="0.59"/>
<circle cx="619.5" cy="83.1" r="0.48" fill="#a050b8" opacity="0.57"/>
<circle cx="632.1" cy="83.2" r="0.63" fill="#a050b8" opacity="0.49"/>
<circle cx="619.7" cy="85.3" r="0.83" fill="#a050b8" opacity="0.53"/>
<circle cx="629.1" cy="86.4" r="0.75" fill="#a050b8" opacity="0.33"/>
<circle cx="600.4" cy="88.3" r="0.73" fill="#a050b8" opacity="0.61"/>
<circle cx="600.6" cy="86.2" r="0.74" fill="#a050b8" opacity="0.53"/>
<circle cx="606.9" cy="85.3" r="0.50" fill="#a050b8" opacity="0.57"/>
<circle cx="617.9" cy="85.2" r="0.55" fill="#a050b8" opacity="0.64"/>
<circle cx="623.8" cy="81.9" r="0.62" fill="#a050b8" opacity="0.49"/>
<circle cx="625.7" cy="82.7" r="0.58" fill="#a050b8" opacity="0.59"/>
<circle cx="623.6" cy="79.1" r="0.78" fill="#a050b8" opacity="0.58"/>
<circle cx="630.2" cy="88.1" r="0.69" fill="#a050b8" opacity="0.48"/>
<circle cx="625.3" cy="80.2" r="0.76" fill="#a050b8" opacity="0.45"/>
<circle cx="613.9" cy="87.9" r="0.85" fill="#a050b8" opacity="0.43"/>
<circle cx="603.8" cy="89.8" r="0.49" fill="#a050b8" opacity="0.45"/>
<circle cx="608.8" cy="86.9" r="0.54" fill="#a050b8" opacity="0.34"/>
<circle cx="622.9" cy="84.2" r="0.75" fill="#a050b8" opacity="0.36"/>
<circle cx="599.7" cy="84.1" r="0.81" fill="#a050b8" opacity="0.31"/>
<circle cx="601.5" cy="87.8" r="0.48" fill="#a050b8" opacity="0.38"/>
<circle cx="606.5" cy="85.7" r="0.50" fill="#a050b8" opacity="0.36"/>
<circle cx="608.3" cy="83.0" r="0.48" fill="#a050b8" opacity="0.57"/>
<circle cx="609.5" cy="81.8" r="0.62" fill="#a050b8" opacity="0.39"/>
<circle cx="632.3" cy="81.9" r="0.81" fill="#a050b8" opacity="0.42"/>
<circle cx="618.9" cy="87.5" r="0.50" fill="#a050b8" opacity="0.32"/>
<circle cx="634.7" cy="82.2" r="0.76" fill="#a050b8" opacity="0.43"/>
<circle cx="618.1" cy="83.0" r="0.85" fill="#a050b8" opacity="0.53"/>
<circle cx="606.6" cy="86.1" r="0.40" fill="#a050b8" opacity="0.47"/>
<circle cx="611.9" cy="86.8" r="0.67" fill="#a050b8" opacity="0.36"/>
<circle cx="603.4" cy="83.1" r="0.54" fill="#a050b8" opacity="0.39"/>
<circle cx="631.6" cy="79.9" r="0.85" fill="#a050b8" opacity="0.39"/>
<circle cx="618.4" cy="84.6" r="0.47" fill="#a050b8" opacity="0.57"/>
<circle cx="597.3" cy="89.5" r="0.77" fill="#a050b8" opacity="0.33"/>
<circle cx="607.9" cy="82.0" r="0.72" fill="#a050b8" opacity="0.33"/>
<rect x="632.6" y="94.19999999999999" width="3.2" height="0.7" fill="#333"/>
<text x="617.0" y="64.1" font-size="3.6" font-weight="bold" text-anchor="middle" fill="#111">CUMS+HLTP(40mg/kg)</text>
<linearGradient id="he5" x1="0" y1="0" x2="0" y2="1"><stop offset="0" stop-color="#e7c3e7"/><stop offset="0.5" stop-color="#e7c3e7"/><stop offset="0.72" stop-color="#eccdec"/><stop offset="0.9" stop-color="#eccdec"/><stop offset="1" stop-color="#e7c3e7"/></linearGradient>
<rect x="640.0" y="66.3" width="42.2" height="30.3" fill="url(#he5)"/>
<rect x="640.0" y="66.3" width="42.2" height="30.3" fill="#fff" filter="url(#tex)" opacity="0.55"/>
<rect x="640.0" y="66.3" width="42.2" height="30.3" fill="#fff" filter="url(#tex2)" opacity="0.38"/>
<circle cx="660.3" cy="83.0" r="0.68" fill="#a868c0" opacity="0.48"/>
<circle cx="675.5" cy="79.3" r="0.63" fill="#a868c0" opacity="0.43"/>
<circle cx="677.9" cy="74.4" r="0.64" fill="#a868c0" opacity="0.36"/>
<circle cx="662.8" cy="84.3" r="0.41" fill="#a868c0" opacity="0.55"/>
<circle cx="653.5" cy="79.4" r="0.38" fill="#a868c0" opacity="0.39"/>
<circle cx="659.8" cy="88.6" r="0.48" fill="#a868c0" opacity="0.51"/>
<circle cx="645.3" cy="81.3" r="0.51" fill="#a868c0" opacity="0.59"/>
<circle cx="674.4" cy="87.2" r="0.35" fill="#a868c0" opacity="0.41"/>
<circle cx="669.5" cy="77.8" r="0.55" fill="#a868c0" opacity="0.44"/>
<circle cx="641.4" cy="94.9" r="0.63" fill="#a868c0" opacity="0.36"/>
<rect x="677.2" y="94.19999999999999" width="3.2" height="0.7" fill="#333"/>
<text x="661.1" y="64.1" font-size="3.6" font-weight="bold" text-anchor="middle" fill="#111">CUMS+Flu</text>
<filter id="bl" x="-30%" y="-80%" width="160%" height="260%"><feGaussianBlur stdDeviation="0.9 0.7"/></filter>
<filter id="bl2" x="-10%" y="-50%" width="120%" height="200%"><feGaussianBlur stdDeviation="2.2 1.4"/></filter>
<rect x="426.0" y="209.4" width="112.7" height="14.0" fill="#d6d6d6"/>
<rect x="427.0" y="214.16" width="110.7" height="6.48" fill="#000" opacity="0.18" filter="url(#bl2)"/>
<rect x="428.8" y="215.60" width="15.0" height="3.60" rx="1.80" fill="#000" opacity="0.50" filter="url(#bl)"/>
<rect x="445.5" y="215.60" width="15.0" height="3.60" rx="1.80" fill="#000" opacity="0.95" filter="url(#bl)"/>
<rect x="465.0" y="215.60" width="15.0" height="3.60" rx="1.80" fill="#000" opacity="0.75" filter="url(#bl)"/>
<rect x="483.7" y="215.60" width="14.0" height="3.60" rx="1.80" fill="#000" opacity="0.55" filter="url(#bl)"/>
<rect x="503.1" y="215.60" width="15.0" height="3.60" rx="1.80" fill="#000" opacity="0.75" filter="url(#bl)"/>
<rect x="521.7" y="215.60" width="14.0" height="3.60" rx="1.80" fill="#000" opacity="0.60" filter="url(#bl)"/>
<rect x="426.0" y="209.4" width="112.7" height="14.0" fill="none" stroke="#2a2a2a" stroke-width="0.9"/>
<text x="423.9" y="218.4" font-size="6.0" font-weight="bold" text-anchor="end" fill="#111">TNF-α</text>
<rect x="426.0" y="226.0" width="112.7" height="13.3" fill="#e6e6e6"/>
<rect x="427.0" y="229.76" width="110.7" height="6.48" fill="#000" opacity="0.12" filter="url(#bl2)"/>
<rect x="429.3" y="231.20" width="14.0" height="3.60" rx="1.80" fill="#000" opacity="0.30" filter="url(#bl)"/>
<rect x="446.0" y="231.20" width="14.0" height="3.60" rx="1.80" fill="#000" opacity="0.95" filter="url(#bl)"/>
<rect x="465.5" y="231.20" width="14.0" height="3.60" rx="1.80" fill="#000" opacity="0.60" filter="url(#bl)"/>
<rect x="484.2" y="231.20" width="13.0" height="3.60" rx="1.80" fill="#000" opacity="0.45" filter="url(#bl)"/>
<rect x="503.6" y="231.20" width="14.0" height="3.60" rx="1.80" fill="#000" opacity="0.55" filter="url(#bl)"/>
<rect x="522.2" y="231.20" width="13.0" height="3.60" rx="1.80" fill="#000" opacity="0.25" filter="url(#bl)"/>
<rect x="426.0" y="226.0" width="112.7" height="13.3" fill="none" stroke="#2a2a2a" stroke-width="0.9"/>
<text x="423.9" y="234.7" font-size="6.0" font-weight="bold" text-anchor="end" fill="#111">IL-1β</text>
<rect x="426.0" y="242.0" width="112.7" height="13.2" fill="#dcdcdc"/>
<rect x="427.0" y="245.36" width="110.7" height="6.48" fill="#000" opacity="0.1" filter="url(#bl2)"/>
<rect x="429.8" y="246.80" width="13.0" height="3.60" rx="1.80" fill="#000" opacity="0.22" filter="url(#bl)"/>
<rect x="446.5" y="246.80" width="13.0" height="3.60" rx="1.80" fill="#000" opacity="0.12" filter="url(#bl)"/>
<rect x="465.5" y="246.80" width="14.0" height="3.60" rx="1.80" fill="#000" opacity="0.20" filter="url(#bl)"/>
<rect x="483.7" y="246.80" width="14.0" height="3.60" rx="1.80" fill="#000" opacity="0.18" filter="url(#bl)"/>
<rect x="504.1" y="246.80" width="13.0" height="3.60" rx="1.80" fill="#000" opacity="0.18" filter="url(#bl)"/>
<rect x="522.2" y="246.80" width="13.0" height="3.60" rx="1.80" fill="#000" opacity="0.25" filter="url(#bl)"/>
<rect x="426.0" y="242.0" width="112.7" height="13.2" fill="none" stroke="#2a2a2a" stroke-width="0.9"/>
<text x="423.9" y="250.6" font-size="6.0" font-weight="bold" text-anchor="end" fill="#111">IL-10</text>
<rect x="426.0" y="257.8" width="112.7" height="12.2" fill="#e8e8e8"/>
<rect x="427.0" y="260.90" width="110.7" height="5.40" fill="#000" opacity="0.12" filter="url(#bl2)"/>
<rect x="428.8" y="262.10" width="15.0" height="3.00" rx="1.50" fill="#000" opacity="0.90" filter="url(#bl)"/>
<rect x="445.5" y="262.10" width="15.0" height="3.00" rx="1.50" fill="#000" opacity="0.85" filter="url(#bl)"/>
<rect x="465.0" y="262.10" width="15.0" height="3.00" rx="1.50" fill="#000" opacity="0.95" filter="url(#bl)"/>
<rect x="483.7" y="262.10" width="14.0" height="3.00" rx="1.50" fill="#000" opacity="0.80" filter="url(#bl)"/>
<rect x="503.6" y="262.10" width="14.0" height="3.00" rx="1.50" fill="#000" opacity="0.80" filter="url(#bl)"/>
<rect x="522.2" y="262.10" width="13.0" height="3.00" rx="1.50" fill="#000" opacity="0.75" filter="url(#bl)"/>
<rect x="426.0" y="257.8" width="112.7" height="12.2" fill="none" stroke="#2a2a2a" stroke-width="0.9"/>
<text x="423.9" y="265.9" font-size="6.0" font-weight="bold" text-anchor="end" fill="#111">β-actin</text>
<text x="435.4" y="277.2" font-size="4.75" font-weight="bold" text-anchor="middle" fill="#111">Control</text>
<text x="454.0" y="277.2" font-size="4.75" font-weight="bold" text-anchor="middle" fill="#111">CUMS</text>
<text x="471.8" y="277.2" font-size="4.75" font-weight="bold" text-anchor="middle" fill="#111">10</text>
<text x="489.1" y="277.2" font-size="4.75" font-weight="bold" text-anchor="middle" fill="#111">20</text>
<text x="507.9" y="277.2" font-size="4.75" font-weight="bold" text-anchor="middle" fill="#111">40</text>
<text x="527.2" y="277.2" font-size="4.75" font-weight="bold" text-anchor="middle" fill="#111">CUMS+Flu</text>
<line x1="465.3" y1="280.4" x2="512.8" y2="280.4" stroke="#111" stroke-width="0.7"/>
<text x="489.1" y="287.0" font-size="4.75" font-weight="bold" text-anchor="middle" fill="#111">CUMS+HLTP(mg/kg)</text>
<rect x="570.0" y="210.8" width="115.2" height="13.8" fill="#dedede"/>
<rect x="571.0" y="214.94" width="113.2" height="6.12" fill="#000" opacity="0.15" filter="url(#bl2)"/>
<rect x="571.5" y="216.30" width="17.0" height="3.40" rx="1.70" fill="#000" opacity="0.80" filter="url(#bl)"/>
<rect x="590.3" y="216.30" width="16.0" height="3.40" rx="1.70" fill="#000" opacity="0.40" filter="url(#bl)"/>
<rect x="608.0" y="216.30" width="17.0" height="3.40" rx="1.70" fill="#000" opacity="0.70" filter="url(#bl)"/>
<rect x="625.1" y="216.30" width="18.0" height="3.40" rx="1.70" fill="#000" opacity="0.85" filter="url(#bl)"/>
<rect x="644.1" y="216.30" width="18.0" height="3.40" rx="1.70" fill="#000" opacity="0.90" filter="url(#bl)"/>
<rect x="664.5" y="216.30" width="17.0" height="3.40" rx="1.70" fill="#000" opacity="0.85" filter="url(#bl)"/>
<rect x="570.0" y="210.8" width="115.2" height="13.8" fill="none" stroke="#2a2a2a" stroke-width="0.9"/>
<text x="567.4" y="219.7" font-size="6.0" font-weight="bold" text-anchor="end" fill="#111">BDNF</text>
<rect x="570.0" y="228.6" width="115.2" height="14.0" fill="#e4e4e4"/>
<rect x="571.0" y="232.46" width="113.2" height="6.48" fill="#000" opacity="0.15" filter="url(#bl2)"/>
<rect x="572.5" y="233.90" width="15.0" height="3.60" rx="1.80" fill="#000" opacity="0.85" filter="url(#bl)"/>
<rect x="591.3" y="233.90" width="14.0" height="3.60" rx="1.80" fill="#000" opacity="0.30" filter="url(#bl)"/>
<rect x="609.5" y="233.90" width="14.0" height="3.60" rx="1.80" fill="#000" opacity="0.30" filter="url(#bl)"/>
<rect x="627.1" y="233.90" width="14.0" height="3.60" rx="1.80" fill="#000" opacity="0.35" filter="url(#bl)"/>
<rect x="645.6" y="233.90" width="15.0" height="3.60" rx="1.80" fill="#000" opacity="0.60" filter="url(#bl)"/>
<rect x="665.5" y="233.90" width="15.0" height="3.60" rx="1.80" fill="#000" opacity="0.80" filter="url(#bl)"/>
<rect x="570.0" y="228.6" width="115.2" height="14.0" fill="none" stroke="#2a2a2a" stroke-width="0.9"/>
<text x="567.4" y="237.6" font-size="6.0" font-weight="bold" text-anchor="end" fill="#111">CREB</text>
<rect x="570.0" y="246.4" width="115.2" height="13.8" fill="#e8e8e8"/>
<rect x="571.0" y="250.34" width="113.2" height="6.12" fill="#000" opacity="0.15" filter="url(#bl2)"/>
<rect x="572.0" y="251.70" width="16.0" height="3.40" rx="1.70" fill="#000" opacity="0.95" filter="url(#bl)"/>
<rect x="590.8" y="251.70" width="15.0" height="3.40" rx="1.70" fill="#000" opacity="0.85" filter="url(#bl)"/>
<rect x="609.0" y="251.70" width="15.0" height="3.40" rx="1.70" fill="#000" opacity="0.80" filter="url(#bl)"/>
<rect x="626.1" y="251.70" width="16.0" height="3.40" rx="1.70" fill="#000" opacity="0.85" filter="url(#bl)"/>
<rect x="645.1" y="251.70" width="16.0" height="3.40" rx="1.70" fill="#000" opacity="0.85" filter="url(#bl)"/>
<rect x="665.0" y="251.70" width="16.0" height="3.40" rx="1.70" fill="#000" opacity="0.90" filter="url(#bl)"/>
<rect x="570.0" y="246.4" width="115.2" height="13.8" fill="none" stroke="#2a2a2a" stroke-width="0.9"/>
<text x="567.2" y="255.3" font-size="6.0" font-weight="bold" text-anchor="end" fill="#111">β-actin</text>
<text x="579.5" y="267.8" font-size="4.75" font-weight="bold" text-anchor="middle" fill="#111">Control</text>
<text x="598.3" y="267.8" font-size="4.75" font-weight="bold" text-anchor="middle" fill="#111">CUMS</text>
<text x="616.1" y="267.8" font-size="4.75" font-weight="bold" text-anchor="middle" fill="#111">10</text>
<text x="634.1" y="267.8" font-size="4.75" font-weight="bold" text-anchor="middle" fill="#111">20</text>
<text x="653.1" y="267.8" font-size="4.75" font-weight="bold" text-anchor="middle" fill="#111">40</text>
<text x="672.7" y="267.8" font-size="4.75" font-weight="bold" text-anchor="middle" fill="#111">CUMS+Flu</text>
<line x1="609.9" y1="270.2" x2="657.8" y2="270.2" stroke="#111" stroke-width="0.7"/>
<text x="634.1" y="276.8" font-size="4.75" font-weight="bold" text-anchor="middle" fill="#111">CUMS+HLTP(mg/kg)</text>
<rect x="456.0" y="299.9" width="40.6" height="71.2" fill="#fff" stroke="#333" stroke-width="0.6"/>
<rect x="457.0" y="300.2" width="13.2" height="32.7" fill="#8ecbe0"/>
<rect x="457.0" y="332.9" width="13.2" height="37.9" fill="#d5705c"/>
<rect x="471.5" y="300.2" width="11.9" height="30.5" fill="#8ecbe0"/>
<rect x="471.5" y="330.7" width="11.9" height="40.1" fill="#d5705c"/>
<rect x="471.5" y="300.2" width="11.9" height="1.0" fill="#a8a8a0"/>
<rect x="471.5" y="301.2" width="11.9" height="1.6" fill="#6aa898"/>
<rect x="484.7" y="300.2" width="11.3" height="34.0" fill="#8ecbe0"/>
<rect x="484.7" y="334.2" width="11.3" height="36.6" fill="#d5705c"/>
<rect x="484.7" y="300.3" width="11.3" height="0.6" fill="#a0c8b0"/>
<line x1="454.8" y1="300.2" x2="456.0" y2="300.2" stroke="#333" stroke-width="0.5"/>
<text x="454.4" y="301.3" font-size="3.0" font-weight="bold" text-anchor="end" fill="#111">1.00</text>
<line x1="454.8" y1="318.0" x2="456.0" y2="318.0" stroke="#333" stroke-width="0.5"/>
<text x="454.4" y="319.1" font-size="3.0" font-weight="bold" text-anchor="end" fill="#111">0.75</text>
<line x1="454.8" y1="336.0" x2="456.0" y2="336.0" stroke="#333" stroke-width="0.5"/>
<text x="454.4" y="337.1" font-size="3.0" font-weight="bold" text-anchor="end" fill="#111">0.50</text>
<line x1="454.8" y1="353.8" x2="456.0" y2="353.8" stroke="#333" stroke-width="0.5"/>
<text x="454.4" y="354.9" font-size="3.0" font-weight="bold" text-anchor="end" fill="#111">0.25</text>
<line x1="454.8" y1="371.0" x2="456.0" y2="371.0" stroke="#333" stroke-width="0.5"/>
<text x="454.4" y="372.1" font-size="3.0" font-weight="bold" text-anchor="end" fill="#111">0.00</text>
<text x="476.3" y="296.4" font-size="5.2" font-weight="bold" text-anchor="middle" fill="#111">Phylum</text>
<text x="446.2" y="335.5" font-size="4.2" font-weight="bold" text-anchor="middle" fill="#111" transform="rotate(-90 446.2 335.5)">Relative abundance</text>
<text x="465.5" y="374.5" font-size="4.0" font-weight="bold" text-anchor="end" fill="#111" transform="rotate(-35 465.5 374.5)">Control</text>
<text x="477.8" y="376.0" font-size="4.0" font-weight="bold" text-anchor="end" fill="#111" transform="rotate(-35 477.8 376.0)">CUMS</text>
<text x="491.5" y="375.8" font-size="4.0" font-weight="bold" text-anchor="end" fill="#111" transform="rotate(-35 491.5 375.8)">CUMS_HLTP</text>
<text x="501.4" y="315.8" font-size="4.6" font-weight="bold" text-anchor="start" fill="#111">Taxonomy</text>
<rect x="501.8" y="319.25" width="3.3" height="3.9" fill="#c9b9a0"/>
<text x="507.6" y="322.3" font-size="3.3" font-weight="bold" text-anchor="start" fill="#111">Others</text>
<rect x="501.8" y="323.51" width="3.3" height="3.9" fill="#8c7a68"/>
<text x="507.6" y="326.6" font-size="3.3" font-weight="bold" text-anchor="start" fill="#111">p__Elusimicrobia</text>
<rect x="501.8" y="327.77" width="3.3" height="3.9" fill="#ea96a0"/>
<text x="507.6" y="330.8" font-size="3.3" font-weight="bold" text-anchor="start" fill="#111">p__Actinobacteria</text>
<rect x="501.8" y="332.03" width="3.3" height="3.9" fill="#b8e2cc"/>
<text x="507.6" y="335.1" font-size="3.3" font-weight="bold" text-anchor="start" fill="#111">p__Actinobacteriota</text>
<rect x="501.8" y="336.29" width="3.3" height="3.9" fill="#a8a8da"/>
<text x="507.6" y="339.3" font-size="3.3" font-weight="bold" text-anchor="start" fill="#111">p__Proteobacteria</text>
<rect x="501.8" y="340.55" width="3.3" height="3.9" fill="#eaa898"/>
<text x="507.6" y="343.6" font-size="3.3" font-weight="bold" text-anchor="start" fill="#111">p__Cyanobacteria</text>
<rect x="501.8" y="344.81" width="3.3" height="3.9" fill="#4a5aa2"/>
<text x="507.6" y="347.9" font-size="3.3" font-weight="bold" text-anchor="start" fill="#111">p__Euryarchaeota</text>
<rect x="501.8" y="349.07" width="3.3" height="3.9" fill="#52aa8a"/>
<text x="507.6" y="352.1" font-size="3.3" font-weight="bold" text-anchor="start" fill="#111">p__unidentified_Bacteria</text>
<rect x="501.8" y="353.33" width="3.3" height="3.9" fill="#8ecbe0"/>
<text x="507.6" y="356.4" font-size="3.3" font-weight="bold" text-anchor="start" fill="#111">p__Bacteroidota</text>
<rect x="501.8" y="357.59" width="3.3" height="3.9" fill="#d5705c"/>
<text x="507.6" y="360.6" font-size="3.3" font-weight="bold" text-anchor="start" fill="#111">p__Firmicutes</text>
<line x1="594.0" y1="290.4" x2="594.0" y2="373.1" stroke="#d8d8d8" stroke-width="0.5"/>
<line x1="611.7" y1="290.4" x2="611.7" y2="373.1" stroke="#d8d8d8" stroke-width="0.5"/>
<line x1="629.8" y1="290.4" x2="629.8" y2="373.1" stroke="#d8d8d8" stroke-width="0.5"/>
<line x1="647.5" y1="290.4" x2="647.5" y2="373.1" stroke="#d8d8d8" stroke-width="0.5"/>
<line x1="665.0" y1="290.4" x2="665.0" y2="373.1" stroke="#d8d8d8" stroke-width="0.5"/>
<line x1="591.8" y1="290.4" x2="667.0" y2="290.4" stroke="#d8d8d8" stroke-width="0.5"/>
<line x1="591.8" y1="306.9" x2="667.0" y2="306.9" stroke="#d8d8d8" stroke-width="0.5"/>
<line x1="591.8" y1="323.5" x2="667.0" y2="323.5" stroke="#d8d8d8" stroke-width="0.5"/>
<line x1="591.8" y1="340.0" x2="667.0" y2="340.0" stroke="#d8d8d8" stroke-width="0.5"/>
<line x1="591.8" y1="356.6" x2="667.0" y2="356.6" stroke="#d8d8d8" stroke-width="0.5"/>
<line x1="591.8" y1="290.4" x2="591.8" y2="373.1" stroke="#444" stroke-width="0.6"/>
<line x1="591.8" y1="373.1" x2="667.0" y2="373.1" stroke="#444" stroke-width="0.6"/>
<line x1="590.5999999999999" y1="290.4" x2="591.8" y2="290.4" stroke="#444" stroke-width="0.5"/>
<text x="589.2" y="291.6" font-size="3.4" text-anchor="end" fill="#333">6</text>
<line x1="590.5999999999999" y1="306.9" x2="591.8" y2="306.9" stroke="#444" stroke-width="0.5"/>
<text x="589.2" y="308.1" font-size="3.4" text-anchor="end" fill="#333">4</text>
<line x1="590.5999999999999" y1="323.5" x2="591.8" y2="323.5" stroke="#444" stroke-width="0.5"/>
<text x="589.2" y="324.7" font-size="3.4" text-anchor="end" fill="#333">2</text>
<line x1="590.5999999999999" y1="340.0" x2="591.8" y2="340.0" stroke="#444" stroke-width="0.5"/>
<text x="589.2" y="341.2" font-size="3.4" text-anchor="end" fill="#333">1</text>
<line x1="590.5999999999999" y1="356.6" x2="591.8" y2="356.6" stroke="#444" stroke-width="0.5"/>
<text x="589.2" y="357.8" font-size="3.4" text-anchor="end" fill="#333">1</text>
<line x1="590.5999999999999" y1="373.1" x2="591.8" y2="373.1" stroke="#444" stroke-width="0.5"/>
<text x="589.2" y="374.3" font-size="3.4" text-anchor="end" fill="#333">0</text>
<line x1="594.0" y1="373.1" x2="594.0" y2="374.3" stroke="#444" stroke-width="0.5"/>
<text x="594.0" y="377.9" font-size="3.6" font-weight="bold" text-anchor="middle" fill="#333">0.00</text>
<line x1="611.7" y1="373.1" x2="611.7" y2="374.3" stroke="#444" stroke-width="0.5"/>
<text x="611.7" y="377.9" font-size="3.6" font-weight="bold" text-anchor="middle" fill="#333">0.05</text>
<line x1="629.8" y1="373.1" x2="629.8" y2="374.3" stroke="#444" stroke-width="0.5"/>
<text x="629.8" y="377.9" font-size="3.6" font-weight="bold" text-anchor="middle" fill="#333">0.10</text>
<line x1="647.5" y1="373.1" x2="647.5" y2="374.3" stroke="#444" stroke-width="0.5"/>
<text x="647.5" y="377.9" font-size="3.6" font-weight="bold" text-anchor="middle" fill="#333">0.15</text>
<line x1="665.0" y1="373.1" x2="665.0" y2="374.3" stroke="#444" stroke-width="0.5"/>
<text x="665.0" y="377.9" font-size="3.6" font-weight="bold" text-anchor="middle" fill="#333">0.20</text>
<text x="630.0" y="383.4" font-size="3.8" font-weight="bold" text-anchor="middle" fill="#333">Pathway Impact</text>
<text x="583.6" y="337" font-size="3.6" font-weight="bold" text-anchor="middle" fill="#333" transform="rotate(-90 583.6 337)">-log(10)p</text>
<circle cx="659.4" cy="300.7" r="3.9" fill="#e01010" stroke="#8a6a40" stroke-width="0.25"/>
<circle cx="663.7" cy="327.8" r="4.1" fill="#e01010" stroke="#8a6a40" stroke-width="0.25"/>
<circle cx="620.6" cy="356.3" r="2.8" fill="#e84a10" stroke="#8a6a40" stroke-width="0.25"/>
<circle cx="615.7" cy="362.2" r="2.7" fill="#ee7418" stroke="#8a6a40" stroke-width="0.25"/>
<circle cx="634.7" cy="363.6" r="3.0" fill="#ee8424" stroke="#8a6a40" stroke-width="0.25"/>
<circle cx="652.9" cy="367.1" r="3.6" fill="#f8d030" stroke="#8a6a40" stroke-width="0.25"/>
<circle cx="612.2" cy="366.8" r="2.3" fill="#f6c030" stroke="#8a6a40" stroke-width="0.25"/>
<circle cx="605.0" cy="367.6" r="1.6" fill="#fff8d0" stroke="#8a6a40" stroke-width="0.25"/>
<circle cx="605.0" cy="370.3" r="1.6" fill="#fffff0" stroke="#8a6a40" stroke-width="0.25"/>
<circle cx="597.5" cy="367.5" r="1.8" fill="#fff080" stroke="#8a6a40" stroke-width="0.25"/>
<circle cx="594.8" cy="365.5" r="1.3" fill="#f8c848" stroke="#8a6a40" stroke-width="0.25"/>
<circle cx="594.2" cy="362.3" r="1.0" fill="#f0a030" stroke="#8a6a40" stroke-width="0.25"/>
<circle cx="593.8" cy="358.2" r="0.9" fill="#e84010" stroke="#8a6a40" stroke-width="0.25"/>
<circle cx="595.8" cy="368.6" r="1.2" fill="#f6e060" stroke="#8a6a40" stroke-width="0.25"/>
<text x="644.2" y="296.0" font-size="2.75" text-anchor="middle" fill="#222">Tryptophan metabolism</text>
<text x="640.0" y="321.2" font-size="2.75" text-anchor="middle" fill="#222">Porphyrin and chlorophyll metabolism</text>
<text x="630.6" y="350.8" font-size="2.75" text-anchor="middle" fill="#222">Porphyrin metabolism</text>
<text x="607.5" y="358.8" font-size="2.75" text-anchor="middle" fill="#222">Arginine biosynthesis</text>
<text x="645.6" y="357.8" font-size="2.75" text-anchor="middle" fill="#222">Glycerophospholipid metabolism</text>
<text x="648.3" y="363.3" font-size="2.75" text-anchor="middle" fill="#222">Arginine metabolism</text>
<text x="622.0" y="370.0" font-size="2.75" text-anchor="middle" fill="#222">Purine metabolism</text><!--/RIGHT--></g>
</svg>
</div></body></html>
